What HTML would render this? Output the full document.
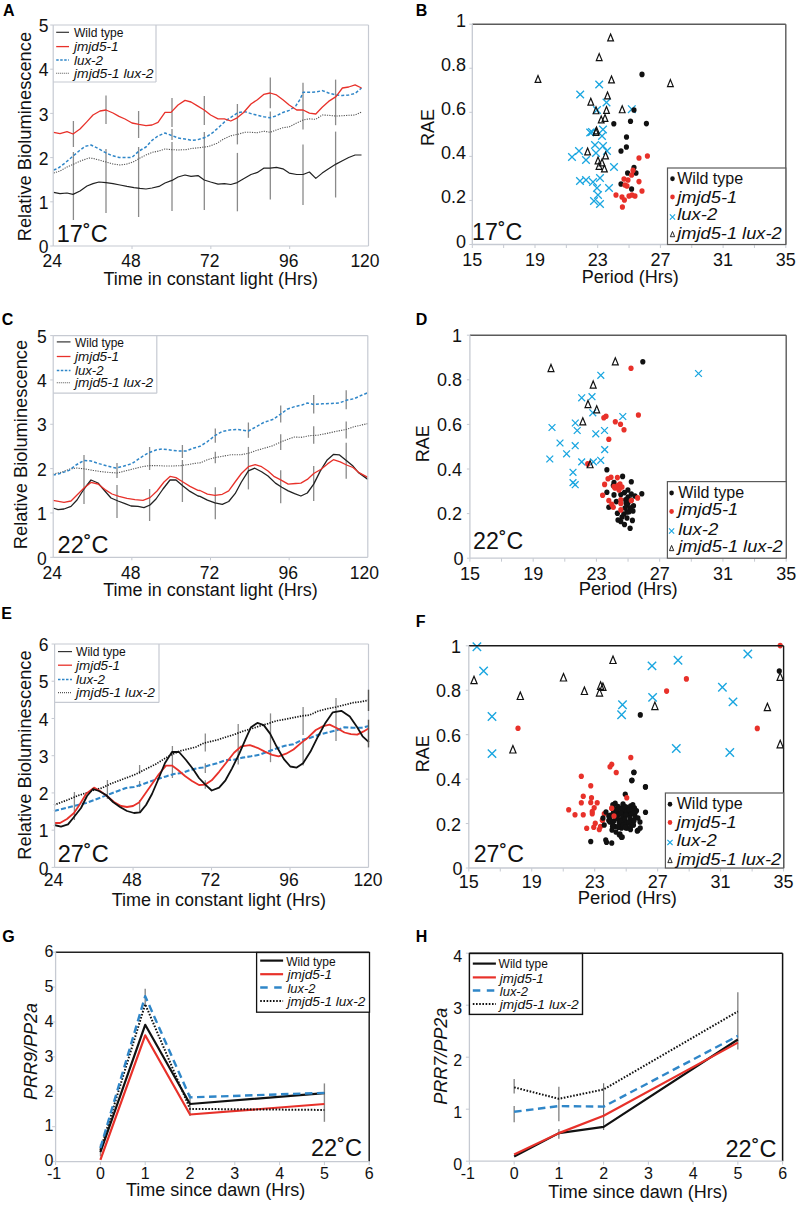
<!DOCTYPE html>
<html><head><meta charset="utf-8"><style>
html,body{margin:0;padding:0;background:#fff;width:800px;height:1206px;overflow:hidden}
svg{display:block;font-family:"Liberation Sans", sans-serif}
</style></head><body>
<svg width="800" height="1206" viewBox="0 0 800 1206">
<text x="3.00" y="15.75" font-size="16" text-anchor="start" font-weight="bold" fill="#000">A</text>
<text x="415.80" y="15.60" font-size="16" text-anchor="start" font-weight="bold" fill="#000">B</text>
<text x="1.80" y="324.75" font-size="16" text-anchor="start" font-weight="bold" fill="#000">C</text>
<text x="415.80" y="324.50" font-size="16" text-anchor="start" font-weight="bold" fill="#000">D</text>
<text x="1.20" y="618.60" font-size="16" text-anchor="start" font-weight="bold" fill="#000">E</text>
<text x="415.80" y="626.50" font-size="16" text-anchor="start" font-weight="bold" fill="#000">F</text>
<text x="2.30" y="941.80" font-size="16" text-anchor="start" font-weight="bold" fill="#000">G</text>
<text x="415.80" y="942.00" font-size="16" text-anchor="start" font-weight="bold" fill="#000">H</text>
<line x1="73.40" y1="121.00" x2="73.40" y2="147.00" stroke="#8a8a8a" stroke-width="1.3" stroke-linecap="butt"/>
<line x1="73.40" y1="152.00" x2="73.40" y2="220.00" stroke="#8a8a8a" stroke-width="1.3" stroke-linecap="butt"/>
<line x1="106.00" y1="95.60" x2="106.00" y2="124.00" stroke="#8a8a8a" stroke-width="1.3" stroke-linecap="butt"/>
<line x1="106.00" y1="149.00" x2="106.00" y2="213.00" stroke="#8a8a8a" stroke-width="1.3" stroke-linecap="butt"/>
<line x1="138.60" y1="111.00" x2="138.60" y2="138.00" stroke="#8a8a8a" stroke-width="1.3" stroke-linecap="butt"/>
<line x1="138.60" y1="147.00" x2="138.60" y2="217.00" stroke="#8a8a8a" stroke-width="1.3" stroke-linecap="butt"/>
<line x1="172.00" y1="98.00" x2="172.00" y2="127.00" stroke="#8a8a8a" stroke-width="1.3" stroke-linecap="butt"/>
<line x1="172.00" y1="129.00" x2="172.00" y2="140.00" stroke="#8a8a8a" stroke-width="1.3" stroke-linecap="butt"/>
<line x1="172.00" y1="142.00" x2="172.00" y2="211.00" stroke="#8a8a8a" stroke-width="1.3" stroke-linecap="butt"/>
<line x1="204.30" y1="96.00" x2="204.30" y2="125.00" stroke="#8a8a8a" stroke-width="1.3" stroke-linecap="butt"/>
<line x1="204.30" y1="132.00" x2="204.30" y2="210.00" stroke="#8a8a8a" stroke-width="1.3" stroke-linecap="butt"/>
<line x1="237.40" y1="104.00" x2="237.40" y2="144.40" stroke="#8a8a8a" stroke-width="1.3" stroke-linecap="butt"/>
<line x1="237.40" y1="152.90" x2="237.40" y2="211.30" stroke="#8a8a8a" stroke-width="1.3" stroke-linecap="butt"/>
<line x1="270.30" y1="77.40" x2="270.30" y2="108.20" stroke="#8a8a8a" stroke-width="1.3" stroke-linecap="butt"/>
<line x1="270.30" y1="111.40" x2="270.30" y2="199.60" stroke="#8a8a8a" stroke-width="1.3" stroke-linecap="butt"/>
<line x1="303.00" y1="82.70" x2="303.00" y2="129.50" stroke="#8a8a8a" stroke-width="1.3" stroke-linecap="butt"/>
<line x1="303.00" y1="144.40" x2="303.00" y2="204.90" stroke="#8a8a8a" stroke-width="1.3" stroke-linecap="butt"/>
<line x1="335.60" y1="79.60" x2="335.60" y2="125.20" stroke="#8a8a8a" stroke-width="1.3" stroke-linecap="butt"/>
<line x1="335.60" y1="131.60" x2="335.60" y2="197.50" stroke="#8a8a8a" stroke-width="1.3" stroke-linecap="butt"/>
<polyline points="53.60,173.00 60.00,171.00 67.00,167.00 74.00,164.00 82.00,160.40 89.00,158.00 93.00,158.40 99.00,160.00 106.00,162.00 113.00,164.00 120.00,165.00 127.00,164.00 134.00,161.60 140.00,158.00 146.00,155.00 152.00,152.40 159.00,151.00 165.00,149.00 171.00,149.60 178.00,150.00 186.00,149.60 192.00,148.40 200.00,147.60 208.50,146.50 217.00,143.30 223.40,139.10 231.90,135.40 238.20,134.20 244.60,132.30 251.00,132.30 257.40,132.70 263.70,131.20 270.10,132.30 276.50,129.90 282.90,127.80 289.20,126.90 295.60,123.50 303.10,119.90 309.40,118.90 315.80,119.30 322.20,115.00 328.60,115.30 336.00,116.10 342.40,115.70 348.70,115.30 355.10,115.00 361.50,112.10" fill="none" stroke="#555" stroke-width="1.1" stroke-dasharray="1.2,1.2" stroke-linejoin="round" stroke-linecap="butt"/>
<polyline points="53.60,192.40 60.00,193.60 67.00,193.00 73.00,194.40 80.00,191.00 87.00,186.00 93.00,183.60 99.00,182.00 106.00,182.60 113.00,183.60 120.00,185.00 127.00,186.40 134.00,187.60 140.00,188.40 146.00,189.00 152.00,188.00 159.00,186.40 165.00,183.00 172.00,180.40 178.00,177.00 185.00,175.00 191.00,176.40 198.00,175.60 204.20,180.00 210.60,182.00 218.00,184.10 224.40,183.70 230.80,184.50 237.20,182.60 243.60,178.80 251.00,174.50 257.40,172.40 263.70,168.20 270.10,168.20 276.50,167.30 282.90,168.80 289.20,173.10 296.70,174.50 303.10,174.50 309.40,172.00 315.80,178.40 322.20,173.10 328.60,168.80 336.00,164.10 342.40,160.70 348.70,157.50 355.10,155.00 361.50,155.00" fill="none" stroke="#222" stroke-width="1.2" stroke-linejoin="round" stroke-linecap="butt"/>
<polyline points="53.60,170.00 58.00,168.40 65.00,163.00 72.00,157.00 79.00,151.00 85.00,146.40 91.00,145.00 98.00,148.40 105.00,152.40 112.00,155.60 119.00,157.40 126.00,157.60 132.00,157.40 139.00,151.00 146.00,147.00 152.00,140.40 158.00,136.00 165.00,133.00 172.00,135.60 178.00,138.00 185.00,139.00 192.00,140.40 198.00,139.60 206.40,137.00 212.70,132.70 219.10,127.00 225.50,121.00 231.90,116.70 238.20,112.50 244.60,111.60 251.00,113.60 257.40,115.30 263.70,116.70 270.10,117.80 276.50,115.70 282.90,112.50 289.20,110.40 295.60,106.10 299.90,99.70 303.10,92.30 309.40,92.30 315.80,92.10 322.20,90.60 328.60,93.00 336.00,95.00 342.40,95.50 348.70,95.00 355.10,93.40 361.50,88.00" fill="none" stroke="#2f86c8" stroke-width="1.5" stroke-dasharray="3,2" stroke-linejoin="round" stroke-linecap="butt"/>
<polyline points="53.60,132.40 60.00,133.60 67.00,131.60 73.00,134.00 80.00,129.00 87.00,121.60 93.00,115.00 100.00,111.00 106.00,110.00 113.00,113.00 119.00,116.40 125.00,119.00 132.00,123.00 139.00,124.40 146.00,125.60 152.00,125.00 158.00,122.40 165.00,112.40 171.00,112.40 178.00,105.00 185.00,100.40 191.00,102.00 197.00,105.60 204.20,110.00 210.60,115.00 218.00,118.90 224.40,118.90 230.80,121.00 237.20,117.80 243.60,112.50 251.00,104.00 257.40,99.70 263.70,94.40 270.10,93.00 276.50,94.90 282.90,99.70 289.20,105.00 296.70,110.00 303.10,110.00 309.40,113.10 315.80,114.00 322.20,107.20 328.60,101.40 336.00,96.60 342.40,88.00 348.70,87.00 355.10,84.90 361.50,88.00" fill="none" stroke="#e8312a" stroke-width="1.3" stroke-linejoin="round" stroke-linecap="butt"/>
<line x1="53.20" y1="25.00" x2="368.50" y2="25.00" stroke="#c6cad2" stroke-width="1.2" stroke-linecap="butt"/>
<line x1="368.50" y1="25.00" x2="368.50" y2="246.00" stroke="#c6cad2" stroke-width="1.2" stroke-linecap="butt"/>
<line x1="53.20" y1="25.00" x2="53.20" y2="246.00" stroke="#c6cad2" stroke-width="1.2" stroke-linecap="butt"/>
<line x1="53.20" y1="246.00" x2="368.50" y2="246.00" stroke="#c6cad2" stroke-width="1.2" stroke-linecap="butt"/>
<line x1="50.20" y1="246.00" x2="53.20" y2="246.00" stroke="#c6cad2" stroke-width="1" stroke-linecap="butt"/>
<line x1="50.20" y1="201.80" x2="53.20" y2="201.80" stroke="#c6cad2" stroke-width="1" stroke-linecap="butt"/>
<line x1="50.20" y1="157.60" x2="53.20" y2="157.60" stroke="#c6cad2" stroke-width="1" stroke-linecap="butt"/>
<line x1="50.20" y1="113.40" x2="53.20" y2="113.40" stroke="#c6cad2" stroke-width="1" stroke-linecap="butt"/>
<line x1="50.20" y1="69.20" x2="53.20" y2="69.20" stroke="#c6cad2" stroke-width="1" stroke-linecap="butt"/>
<line x1="50.20" y1="25.00" x2="53.20" y2="25.00" stroke="#c6cad2" stroke-width="1" stroke-linecap="butt"/>
<line x1="132.03" y1="246.00" x2="132.03" y2="249.00" stroke="#c6cad2" stroke-width="1" stroke-linecap="butt"/>
<line x1="210.85" y1="246.00" x2="210.85" y2="249.00" stroke="#c6cad2" stroke-width="1" stroke-linecap="butt"/>
<line x1="289.68" y1="246.00" x2="289.68" y2="249.00" stroke="#c6cad2" stroke-width="1" stroke-linecap="butt"/>
<line x1="53.20" y1="82.00" x2="156.00" y2="82.00" stroke="#c6cad2" stroke-width="1.2" stroke-linecap="butt"/>
<line x1="156.00" y1="25.00" x2="156.00" y2="82.00" stroke="#c6cad2" stroke-width="1.2" stroke-linecap="butt"/>
<line x1="56.20" y1="32.30" x2="69.00" y2="32.30" stroke="#333" stroke-width="1.2" stroke-linecap="butt"/>
<text x="74.00" y="36.90" font-size="13" text-anchor="start" fill="#111" textLength="49.5" lengthAdjust="spacingAndGlyphs">Wild type</text>
<line x1="56.20" y1="46.60" x2="69.00" y2="46.60" stroke="#e8312a" stroke-width="1.3" stroke-linecap="butt"/>
<text x="74.00" y="51.20" font-size="13" text-anchor="start" font-style="italic" fill="#111" textLength="44.5" lengthAdjust="spacingAndGlyphs">jmjd5-1</text>
<line x1="56.20" y1="60.00" x2="69.00" y2="60.00" stroke="#2f86c8" stroke-width="1.5" stroke-dasharray="2.5,1.5" stroke-linecap="butt"/>
<text x="74.00" y="64.60" font-size="13" text-anchor="start" font-style="italic" fill="#111" textLength="29" lengthAdjust="spacingAndGlyphs">lux-2</text>
<line x1="56.20" y1="73.20" x2="69.00" y2="73.20" stroke="#555" stroke-width="1.1" stroke-dasharray="1,1" stroke-linecap="butt"/>
<text x="74.00" y="77.80" font-size="13" text-anchor="start" font-style="italic" fill="#111" textLength="79.5" lengthAdjust="spacingAndGlyphs">jmjd5-1 lux-2</text>
<text x="48.60" y="253.20" font-size="17.5" text-anchor="end" fill="#111">0</text>
<text x="48.60" y="209.00" font-size="17.5" text-anchor="end" fill="#111">1</text>
<text x="48.60" y="164.80" font-size="17.5" text-anchor="end" fill="#111">2</text>
<text x="48.60" y="120.60" font-size="17.5" text-anchor="end" fill="#111">3</text>
<text x="48.60" y="76.40" font-size="17.5" text-anchor="end" fill="#111">4</text>
<text x="48.60" y="32.20" font-size="17.5" text-anchor="end" fill="#111">5</text>
<text x="52.20" y="266.70" font-size="17.5" text-anchor="middle" fill="#111">24</text>
<text x="131.03" y="266.70" font-size="17.5" text-anchor="middle" fill="#111">48</text>
<text x="209.85" y="266.70" font-size="17.5" text-anchor="middle" fill="#111">72</text>
<text x="288.68" y="266.70" font-size="17.5" text-anchor="middle" fill="#111">96</text>
<text x="365.00" y="266.70" font-size="17.5" text-anchor="middle" fill="#111">120</text>
<text x="210.70" y="284.50" font-size="18" text-anchor="middle" fill="#111">Time in constant light (Hrs)</text>
<text x="30.80" y="136.60" font-size="18.3" text-anchor="middle" transform="rotate(-90 30.8 136.6)" fill="#111">Relative Bioluminescence</text>
<text x="56.80" y="241.90" font-size="23.5" text-anchor="start" fill="#111">17˚C</text>
<path d="M595.40,80.70L603.00,88.30M595.40,88.30L603.00,80.70" stroke="#1aa6e0" stroke-width="1.3" fill="none"/>
<path d="M576.40,90.70L584.00,98.30M576.40,98.30L584.00,90.70" stroke="#1aa6e0" stroke-width="1.3" fill="none"/>
<path d="M602.70,98.70L610.30,106.30M602.70,106.30L610.30,98.70" stroke="#1aa6e0" stroke-width="1.3" fill="none"/>
<path d="M593.20,106.20L600.80,113.80M593.20,113.80L600.80,106.20" stroke="#1aa6e0" stroke-width="1.3" fill="none"/>
<path d="M628.00,105.40L635.60,113.00M628.00,113.00L635.60,105.40" stroke="#1aa6e0" stroke-width="1.3" fill="none"/>
<path d="M586.40,128.70L594.00,136.30M586.40,136.30L594.00,128.70" stroke="#1aa6e0" stroke-width="1.3" fill="none"/>
<path d="M599.20,125.70L606.80,133.30M599.20,133.30L606.80,125.70" stroke="#1aa6e0" stroke-width="1.3" fill="none"/>
<path d="M598.20,132.20L605.80,139.80M598.20,139.80L605.80,132.20" stroke="#1aa6e0" stroke-width="1.3" fill="none"/>
<path d="M588.20,128.20L595.80,135.80M588.20,135.80L595.80,128.20" stroke="#1aa6e0" stroke-width="1.3" fill="none"/>
<path d="M591.20,141.20L598.80,148.80M591.20,148.80L598.80,141.20" stroke="#1aa6e0" stroke-width="1.3" fill="none"/>
<path d="M599.20,142.20L606.80,149.80M599.20,149.80L606.80,142.20" stroke="#1aa6e0" stroke-width="1.3" fill="none"/>
<path d="M575.20,147.20L582.80,154.80M575.20,154.80L582.80,147.20" stroke="#1aa6e0" stroke-width="1.3" fill="none"/>
<path d="M568.20,153.20L575.80,160.80M568.20,160.80L575.80,153.20" stroke="#1aa6e0" stroke-width="1.3" fill="none"/>
<path d="M582.20,156.20L589.80,163.80M582.20,163.80L589.80,156.20" stroke="#1aa6e0" stroke-width="1.3" fill="none"/>
<path d="M592.20,149.20L599.80,156.80M592.20,156.80L599.80,149.20" stroke="#1aa6e0" stroke-width="1.3" fill="none"/>
<path d="M603.20,147.20L610.80,154.80M603.20,154.80L610.80,147.20" stroke="#1aa6e0" stroke-width="1.3" fill="none"/>
<path d="M610.20,163.20L617.80,170.80M610.20,170.80L617.80,163.20" stroke="#1aa6e0" stroke-width="1.3" fill="none"/>
<path d="M576.20,177.20L583.80,184.80M576.20,184.80L583.80,177.20" stroke="#1aa6e0" stroke-width="1.3" fill="none"/>
<path d="M582.20,176.20L589.80,183.80M582.20,183.80L589.80,176.20" stroke="#1aa6e0" stroke-width="1.3" fill="none"/>
<path d="M589.20,178.20L596.80,185.80M589.20,185.80L596.80,178.20" stroke="#1aa6e0" stroke-width="1.3" fill="none"/>
<path d="M596.20,174.20L603.80,181.80M596.20,181.80L603.80,174.20" stroke="#1aa6e0" stroke-width="1.3" fill="none"/>
<path d="M593.20,184.20L600.80,191.80M593.20,191.80L600.80,184.20" stroke="#1aa6e0" stroke-width="1.3" fill="none"/>
<path d="M605.20,184.20L612.80,191.80M605.20,191.80L612.80,184.20" stroke="#1aa6e0" stroke-width="1.3" fill="none"/>
<path d="M594.20,191.20L601.80,198.80M594.20,198.80L601.80,191.20" stroke="#1aa6e0" stroke-width="1.3" fill="none"/>
<path d="M590.20,197.20L597.80,204.80M590.20,204.80L597.80,197.20" stroke="#1aa6e0" stroke-width="1.3" fill="none"/>
<path d="M596.20,200.20L603.80,207.80M596.20,207.80L603.80,200.20" stroke="#1aa6e0" stroke-width="1.3" fill="none"/>
<path d="M610.60,34.04L613.48,40.97L607.72,40.97Z" stroke="#111" stroke-width="1.2" fill="none" stroke-linejoin="miter"/>
<path d="M599.20,53.64L602.08,60.57L596.32,60.57Z" stroke="#111" stroke-width="1.2" fill="none" stroke-linejoin="miter"/>
<path d="M611.50,76.04L614.38,82.97L608.62,82.97Z" stroke="#111" stroke-width="1.2" fill="none" stroke-linejoin="miter"/>
<path d="M670.40,79.64L673.28,86.57L667.52,86.57Z" stroke="#111" stroke-width="1.2" fill="none" stroke-linejoin="miter"/>
<path d="M538.00,75.54L540.88,82.47L535.12,82.47Z" stroke="#111" stroke-width="1.2" fill="none" stroke-linejoin="miter"/>
<path d="M607.50,92.04L610.38,98.97L604.62,98.97Z" stroke="#111" stroke-width="1.2" fill="none" stroke-linejoin="miter"/>
<path d="M590.80,98.24L593.68,105.17L587.92,105.17Z" stroke="#111" stroke-width="1.2" fill="none" stroke-linejoin="miter"/>
<path d="M596.00,106.84L598.88,113.77L593.12,113.77Z" stroke="#111" stroke-width="1.2" fill="none" stroke-linejoin="miter"/>
<path d="M606.50,106.54L609.38,113.47L603.62,113.47Z" stroke="#111" stroke-width="1.2" fill="none" stroke-linejoin="miter"/>
<path d="M622.20,105.84L625.08,112.77L619.32,112.77Z" stroke="#111" stroke-width="1.2" fill="none" stroke-linejoin="miter"/>
<path d="M601.20,116.04L604.08,122.97L598.32,122.97Z" stroke="#111" stroke-width="1.2" fill="none" stroke-linejoin="miter"/>
<path d="M605.00,114.54L607.88,121.47L602.12,121.47Z" stroke="#111" stroke-width="1.2" fill="none" stroke-linejoin="miter"/>
<path d="M596.50,127.04L599.38,133.97L593.62,133.97Z" stroke="#111" stroke-width="1.2" fill="none" stroke-linejoin="miter"/>
<path d="M596.00,128.44L598.88,135.37L593.12,135.37Z" stroke="#111" stroke-width="1.2" fill="none" stroke-linejoin="miter"/>
<path d="M587.60,148.04L590.48,154.97L584.72,154.97Z" stroke="#111" stroke-width="1.2" fill="none" stroke-linejoin="miter"/>
<path d="M605.60,152.04L608.48,158.97L602.72,158.97Z" stroke="#111" stroke-width="1.2" fill="none" stroke-linejoin="miter"/>
<path d="M598.00,157.04L600.88,163.97L595.12,163.97Z" stroke="#111" stroke-width="1.2" fill="none" stroke-linejoin="miter"/>
<path d="M602.00,159.04L604.88,165.97L599.12,165.97Z" stroke="#111" stroke-width="1.2" fill="none" stroke-linejoin="miter"/>
<path d="M599.00,162.44L601.88,169.37L596.12,169.37Z" stroke="#111" stroke-width="1.2" fill="none" stroke-linejoin="miter"/>
<path d="M604.40,165.04L607.28,171.97L601.52,171.97Z" stroke="#111" stroke-width="1.2" fill="none" stroke-linejoin="miter"/>
<ellipse cx="642.00" cy="74.40" rx="2.60" ry="2.81" fill="#111"/>
<ellipse cx="634.00" cy="110.00" rx="2.60" ry="2.81" fill="#111"/>
<ellipse cx="613.80" cy="123.80" rx="2.60" ry="2.81" fill="#111"/>
<ellipse cx="630.50" cy="121.20" rx="2.60" ry="2.81" fill="#111"/>
<ellipse cx="646.40" cy="123.60" rx="2.60" ry="2.81" fill="#111"/>
<ellipse cx="626.50" cy="137.00" rx="2.60" ry="2.81" fill="#111"/>
<ellipse cx="626.40" cy="147.00" rx="2.60" ry="2.81" fill="#111"/>
<ellipse cx="621.00" cy="151.00" rx="2.60" ry="2.81" fill="#111"/>
<ellipse cx="634.00" cy="167.60" rx="2.60" ry="2.81" fill="#111"/>
<ellipse cx="627.60" cy="173.00" rx="2.60" ry="2.81" fill="#111"/>
<ellipse cx="636.00" cy="173.00" rx="2.60" ry="2.81" fill="#111"/>
<ellipse cx="621.00" cy="184.00" rx="2.60" ry="2.81" fill="#111"/>
<ellipse cx="631.60" cy="189.00" rx="2.60" ry="2.81" fill="#111"/>
<ellipse cx="639.00" cy="158.00" rx="2.60" ry="2.81" fill="#e8312a"/>
<ellipse cx="647.40" cy="156.00" rx="2.60" ry="2.81" fill="#e8312a"/>
<ellipse cx="633.00" cy="170.40" rx="2.60" ry="2.81" fill="#e8312a"/>
<ellipse cx="631.60" cy="175.00" rx="2.60" ry="2.81" fill="#e8312a"/>
<ellipse cx="624.00" cy="179.00" rx="2.60" ry="2.81" fill="#e8312a"/>
<ellipse cx="628.00" cy="180.00" rx="2.60" ry="2.81" fill="#e8312a"/>
<ellipse cx="639.00" cy="181.60" rx="2.60" ry="2.81" fill="#e8312a"/>
<ellipse cx="625.00" cy="185.00" rx="2.60" ry="2.81" fill="#e8312a"/>
<ellipse cx="627.00" cy="186.00" rx="2.60" ry="2.81" fill="#e8312a"/>
<ellipse cx="642.00" cy="191.00" rx="2.60" ry="2.81" fill="#e8312a"/>
<ellipse cx="616.00" cy="195.00" rx="2.60" ry="2.81" fill="#e8312a"/>
<ellipse cx="622.00" cy="197.00" rx="2.60" ry="2.81" fill="#e8312a"/>
<ellipse cx="624.40" cy="200.00" rx="2.60" ry="2.81" fill="#e8312a"/>
<ellipse cx="629.00" cy="196.00" rx="2.60" ry="2.81" fill="#e8312a"/>
<ellipse cx="632.00" cy="195.00" rx="2.60" ry="2.81" fill="#e8312a"/>
<ellipse cx="635.00" cy="196.00" rx="2.60" ry="2.81" fill="#e8312a"/>
<ellipse cx="622.40" cy="207.00" rx="2.60" ry="2.81" fill="#e8312a"/>
<line x1="472.30" y1="24.20" x2="785.80" y2="24.20" stroke="#5a5a5a" stroke-width="1.4" stroke-linecap="butt"/>
<line x1="785.80" y1="24.20" x2="785.80" y2="244.50" stroke="#5a5a5a" stroke-width="1.4" stroke-linecap="butt"/>
<line x1="472.30" y1="24.20" x2="472.30" y2="244.50" stroke="#c6cad2" stroke-width="1.3" stroke-linecap="butt"/>
<line x1="472.30" y1="244.50" x2="785.80" y2="244.50" stroke="#c6cad2" stroke-width="1.3" stroke-linecap="butt"/>
<line x1="469.30" y1="244.50" x2="472.30" y2="244.50" stroke="#c6cad2" stroke-width="1" stroke-linecap="butt"/>
<line x1="469.30" y1="200.44" x2="472.30" y2="200.44" stroke="#c6cad2" stroke-width="1" stroke-linecap="butt"/>
<line x1="469.30" y1="156.38" x2="472.30" y2="156.38" stroke="#c6cad2" stroke-width="1" stroke-linecap="butt"/>
<line x1="469.30" y1="112.32" x2="472.30" y2="112.32" stroke="#c6cad2" stroke-width="1" stroke-linecap="butt"/>
<line x1="469.30" y1="68.26" x2="472.30" y2="68.26" stroke="#c6cad2" stroke-width="1" stroke-linecap="butt"/>
<line x1="469.30" y1="24.20" x2="472.30" y2="24.20" stroke="#c6cad2" stroke-width="1" stroke-linecap="butt"/>
<line x1="472.30" y1="244.50" x2="472.30" y2="248.00" stroke="#c6cad2" stroke-width="1" stroke-linecap="butt"/>
<line x1="503.65" y1="244.50" x2="503.65" y2="248.00" stroke="#c6cad2" stroke-width="1" stroke-linecap="butt"/>
<line x1="535.00" y1="244.50" x2="535.00" y2="248.00" stroke="#c6cad2" stroke-width="1" stroke-linecap="butt"/>
<line x1="566.35" y1="244.50" x2="566.35" y2="248.00" stroke="#c6cad2" stroke-width="1" stroke-linecap="butt"/>
<line x1="597.70" y1="244.50" x2="597.70" y2="248.00" stroke="#c6cad2" stroke-width="1" stroke-linecap="butt"/>
<line x1="629.05" y1="244.50" x2="629.05" y2="248.00" stroke="#c6cad2" stroke-width="1" stroke-linecap="butt"/>
<line x1="660.40" y1="244.50" x2="660.40" y2="248.00" stroke="#c6cad2" stroke-width="1" stroke-linecap="butt"/>
<line x1="691.75" y1="244.50" x2="691.75" y2="248.00" stroke="#c6cad2" stroke-width="1" stroke-linecap="butt"/>
<line x1="723.10" y1="244.50" x2="723.10" y2="248.00" stroke="#c6cad2" stroke-width="1" stroke-linecap="butt"/>
<line x1="754.45" y1="244.50" x2="754.45" y2="248.00" stroke="#c6cad2" stroke-width="1" stroke-linecap="butt"/>
<line x1="785.80" y1="244.50" x2="785.80" y2="248.00" stroke="#c6cad2" stroke-width="1" stroke-linecap="butt"/>
<text x="466.00" y="247.50" font-size="18" text-anchor="end" fill="#111">0</text>
<text x="466.00" y="203.44" font-size="18" text-anchor="end" fill="#111">0.2</text>
<text x="466.00" y="159.38" font-size="18" text-anchor="end" fill="#111">0.4</text>
<text x="466.00" y="115.32" font-size="18" text-anchor="end" fill="#111">0.6</text>
<text x="466.00" y="71.26" font-size="18" text-anchor="end" fill="#111">0.8</text>
<text x="466.00" y="27.20" font-size="18" text-anchor="end" fill="#111">1</text>
<text x="472.30" y="266.00" font-size="18" text-anchor="middle" fill="#111">15</text>
<text x="535.00" y="266.00" font-size="18" text-anchor="middle" fill="#111">19</text>
<text x="597.70" y="266.00" font-size="18" text-anchor="middle" fill="#111">23</text>
<text x="660.40" y="266.00" font-size="18" text-anchor="middle" fill="#111">27</text>
<text x="723.10" y="266.00" font-size="18" text-anchor="middle" fill="#111">31</text>
<text x="785.80" y="266.00" font-size="18" text-anchor="middle" fill="#111">35</text>
<text x="630.30" y="283.00" font-size="18" text-anchor="middle" fill="#111">Period (Hrs)</text>
<text x="433.70" y="127.50" font-size="18" text-anchor="middle" transform="rotate(-90 433.7 127.5)" fill="#111">RAE</text>
<text x="472.10" y="239.80" font-size="23.2" text-anchor="start" fill="#111">17˚C</text>
<rect x="667.50" y="168.00" width="118.30" height="76.50" fill="#fff" stroke="#5a5a5a" stroke-width="1.2"/>
<ellipse cx="672.50" cy="178.80" rx="2.30" ry="2.48" fill="#111"/>
<text x="677.20" y="183.80" font-size="16" text-anchor="start" fill="#111" textLength="66" lengthAdjust="spacingAndGlyphs">Wild type</text>
<ellipse cx="672.50" cy="197.00" rx="2.30" ry="2.48" fill="#e8312a"/>
<text x="677.20" y="202.50" font-size="16" text-anchor="start" font-style="italic" fill="#111" textLength="60" lengthAdjust="spacingAndGlyphs">jmjd5-1</text>
<path d="M669.90,214.40L675.10,219.60M669.90,219.60L675.10,214.40" stroke="#1aa6e0" stroke-width="1.1" fill="none"/>
<text x="677.20" y="220.00" font-size="16" text-anchor="start" font-style="italic" fill="#111" textLength="40" lengthAdjust="spacingAndGlyphs">lux-2</text>
<path d="M672.50,231.53L674.66,236.73L670.34,236.73Z" stroke="#111" stroke-width="0.9" fill="none" stroke-linejoin="miter"/>
<text x="677.20" y="238.80" font-size="16" text-anchor="start" font-style="italic" fill="#111" textLength="104.5" lengthAdjust="spacingAndGlyphs">jmjd5-1 lux-2</text>
<line x1="84.00" y1="455.00" x2="84.00" y2="504.00" stroke="#8a8a8a" stroke-width="1.3" stroke-linecap="butt"/>
<line x1="117.00" y1="463.00" x2="117.00" y2="478.00" stroke="#8a8a8a" stroke-width="1.3" stroke-linecap="butt"/>
<line x1="117.00" y1="485.00" x2="117.00" y2="518.00" stroke="#8a8a8a" stroke-width="1.3" stroke-linecap="butt"/>
<line x1="149.60" y1="447.00" x2="149.60" y2="470.00" stroke="#8a8a8a" stroke-width="1.3" stroke-linecap="butt"/>
<line x1="149.60" y1="489.00" x2="149.60" y2="521.00" stroke="#8a8a8a" stroke-width="1.3" stroke-linecap="butt"/>
<line x1="182.40" y1="445.00" x2="182.40" y2="458.00" stroke="#8a8a8a" stroke-width="1.3" stroke-linecap="butt"/>
<line x1="182.40" y1="460.00" x2="182.40" y2="502.00" stroke="#8a8a8a" stroke-width="1.3" stroke-linecap="butt"/>
<line x1="215.30" y1="428.40" x2="215.30" y2="442.70" stroke="#8a8a8a" stroke-width="1.3" stroke-linecap="butt"/>
<line x1="215.30" y1="451.80" x2="215.30" y2="463.30" stroke="#8a8a8a" stroke-width="1.3" stroke-linecap="butt"/>
<line x1="215.30" y1="487.30" x2="215.30" y2="519.20" stroke="#8a8a8a" stroke-width="1.3" stroke-linecap="butt"/>
<line x1="248.40" y1="422.50" x2="248.40" y2="437.80" stroke="#8a8a8a" stroke-width="1.3" stroke-linecap="butt"/>
<line x1="248.40" y1="446.90" x2="248.40" y2="489.40" stroke="#8a8a8a" stroke-width="1.3" stroke-linecap="butt"/>
<line x1="280.70" y1="405.50" x2="280.70" y2="422.50" stroke="#8a8a8a" stroke-width="1.3" stroke-linecap="butt"/>
<line x1="280.70" y1="434.20" x2="280.70" y2="450.10" stroke="#8a8a8a" stroke-width="1.3" stroke-linecap="butt"/>
<line x1="280.70" y1="470.30" x2="280.70" y2="503.20" stroke="#8a8a8a" stroke-width="1.3" stroke-linecap="butt"/>
<line x1="313.70" y1="394.90" x2="313.70" y2="413.60" stroke="#8a8a8a" stroke-width="1.3" stroke-linecap="butt"/>
<line x1="313.70" y1="426.30" x2="313.70" y2="443.70" stroke="#8a8a8a" stroke-width="1.3" stroke-linecap="butt"/>
<line x1="313.70" y1="466.10" x2="313.70" y2="501.10" stroke="#8a8a8a" stroke-width="1.3" stroke-linecap="butt"/>
<line x1="346.20" y1="390.20" x2="346.20" y2="409.30" stroke="#8a8a8a" stroke-width="1.3" stroke-linecap="butt"/>
<line x1="346.20" y1="421.40" x2="346.20" y2="438.40" stroke="#8a8a8a" stroke-width="1.3" stroke-linecap="butt"/>
<line x1="346.20" y1="442.70" x2="346.20" y2="478.80" stroke="#8a8a8a" stroke-width="1.3" stroke-linecap="butt"/>
<polyline points="53.00,474.00 62.00,472.00 70.00,469.00 77.00,468.00 85.00,469.00 93.00,470.40 101.00,471.60 109.00,472.40 117.00,473.00 125.00,471.00 133.00,469.00 141.00,467.00 149.00,465.60 157.00,465.60 165.00,466.00 173.00,466.00 181.00,465.60 189.00,464.40 197.00,463.00 200.00,462.90 207.40,459.70 214.90,457.60 223.40,456.10 230.80,454.80 240.40,454.80 248.40,453.30 256.30,450.50 263.70,448.40 272.20,445.90 280.70,442.00 288.20,439.10 294.60,437.00 300.90,437.40 309.40,435.70 317.90,435.20 326.40,433.50 336.00,431.40 346.60,429.30 354.10,426.70 361.50,425.00 367.90,423.60" fill="none" stroke="#555" stroke-width="1.1" stroke-dasharray="1.2,1.2" stroke-linejoin="round" stroke-linecap="butt"/>
<polyline points="53.00,508.00 58.00,509.60 64.00,509.00 71.00,506.40 77.00,500.00 84.00,489.00 91.00,480.00 98.00,483.00 104.00,490.00 111.00,498.00 118.00,501.00 125.00,503.60 131.00,506.00 138.00,506.40 144.00,507.60 150.00,505.00 156.00,499.00 163.00,489.00 170.00,480.00 176.00,480.00 183.00,486.00 190.00,491.40 198.00,496.00 200.00,496.40 207.40,500.10 214.90,502.80 222.30,504.30 228.70,501.50 235.10,493.70 241.40,482.00 248.40,470.90 254.80,468.20 261.60,471.80 268.00,476.00 275.40,483.10 281.80,487.30 288.20,490.90 294.60,493.70 300.90,496.00 307.30,493.00 313.70,484.10 320.10,471.40 326.90,460.30 333.40,454.40 339.20,454.80 346.60,460.70 353.00,466.10 358.30,472.40 367.90,479.40" fill="none" stroke="#222" stroke-width="1.3" stroke-linejoin="round" stroke-linecap="butt"/>
<polyline points="53.00,475.00 60.00,473.60 69.00,470.40 76.00,465.00 84.00,460.40 91.00,461.00 99.00,463.60 107.00,466.00 116.00,468.00 124.00,466.00 132.00,463.60 140.00,458.00 148.00,453.00 156.00,450.00 162.00,449.00 170.00,450.00 178.00,451.00 186.00,451.00 194.00,448.00 200.00,446.30 207.40,441.60 214.90,435.70 222.30,431.40 229.70,430.00 237.20,429.30 248.40,431.00 256.30,426.70 263.70,422.50 273.30,419.30 280.70,414.00 287.10,409.30 294.60,406.60 302.00,405.00 307.30,403.00 313.70,404.40 322.20,403.80 331.70,403.40 339.20,403.00 346.60,400.20 354.10,398.70 361.50,395.30 367.90,392.70" fill="none" stroke="#2f86c8" stroke-width="1.5" stroke-dasharray="3,2" stroke-linejoin="round" stroke-linecap="butt"/>
<polyline points="53.00,500.40 64.00,502.40 71.00,501.00 77.00,495.00 84.00,488.00 91.00,482.40 98.00,484.00 105.00,489.60 112.00,494.00 119.00,496.40 127.00,498.40 135.00,499.60 143.00,500.40 150.00,497.60 157.00,491.00 164.00,482.00 170.00,476.40 176.00,477.60 183.00,482.00 190.00,486.40 198.00,490.40 200.00,490.50 207.40,494.10 214.90,495.40 222.30,494.30 228.70,490.90 235.10,482.00 241.40,473.50 248.40,466.70 255.20,464.60 261.60,466.70 268.00,471.00 274.40,476.70 280.70,479.90 288.20,484.10 295.60,483.50 300.90,483.10 307.30,479.40 313.70,473.50 321.10,469.20 327.50,463.90 333.40,459.70 340.20,461.80 346.60,465.00 353.00,467.50 359.40,472.90 367.90,477.30" fill="none" stroke="#e8312a" stroke-width="1.3" stroke-linejoin="round" stroke-linecap="butt"/>
<line x1="53.20" y1="335.60" x2="367.80" y2="335.60" stroke="#c6cad2" stroke-width="1.2" stroke-linecap="butt"/>
<line x1="367.80" y1="335.60" x2="367.80" y2="557.30" stroke="#c6cad2" stroke-width="1.2" stroke-linecap="butt"/>
<line x1="53.20" y1="335.60" x2="53.20" y2="557.30" stroke="#c6cad2" stroke-width="1.2" stroke-linecap="butt"/>
<line x1="53.20" y1="557.30" x2="367.80" y2="557.30" stroke="#c6cad2" stroke-width="1.2" stroke-linecap="butt"/>
<line x1="50.20" y1="557.30" x2="53.20" y2="557.30" stroke="#c6cad2" stroke-width="1" stroke-linecap="butt"/>
<line x1="50.20" y1="512.96" x2="53.20" y2="512.96" stroke="#c6cad2" stroke-width="1" stroke-linecap="butt"/>
<line x1="50.20" y1="468.62" x2="53.20" y2="468.62" stroke="#c6cad2" stroke-width="1" stroke-linecap="butt"/>
<line x1="50.20" y1="424.28" x2="53.20" y2="424.28" stroke="#c6cad2" stroke-width="1" stroke-linecap="butt"/>
<line x1="50.20" y1="379.94" x2="53.20" y2="379.94" stroke="#c6cad2" stroke-width="1" stroke-linecap="butt"/>
<line x1="50.20" y1="335.60" x2="53.20" y2="335.60" stroke="#c6cad2" stroke-width="1" stroke-linecap="butt"/>
<line x1="131.85" y1="557.30" x2="131.85" y2="560.30" stroke="#c6cad2" stroke-width="1" stroke-linecap="butt"/>
<line x1="210.50" y1="557.30" x2="210.50" y2="560.30" stroke="#c6cad2" stroke-width="1" stroke-linecap="butt"/>
<line x1="289.15" y1="557.30" x2="289.15" y2="560.30" stroke="#c6cad2" stroke-width="1" stroke-linecap="butt"/>
<line x1="53.20" y1="393.20" x2="156.80" y2="393.20" stroke="#c6cad2" stroke-width="1.2" stroke-linecap="butt"/>
<line x1="156.80" y1="335.60" x2="156.80" y2="393.20" stroke="#c6cad2" stroke-width="1.2" stroke-linecap="butt"/>
<line x1="56.80" y1="341.90" x2="70.50" y2="341.90" stroke="#333" stroke-width="1.2" stroke-linecap="butt"/>
<text x="75.00" y="346.50" font-size="13" text-anchor="start" fill="#111" textLength="49" lengthAdjust="spacingAndGlyphs">Wild type</text>
<line x1="56.80" y1="356.50" x2="70.50" y2="356.50" stroke="#e8312a" stroke-width="1.3" stroke-linecap="butt"/>
<text x="75.00" y="361.10" font-size="13" text-anchor="start" font-style="italic" fill="#111" textLength="44" lengthAdjust="spacingAndGlyphs">jmjd5-1</text>
<line x1="56.80" y1="370.40" x2="70.50" y2="370.40" stroke="#2f86c8" stroke-width="1.5" stroke-dasharray="2.5,1.5" stroke-linecap="butt"/>
<text x="75.00" y="375.00" font-size="13" text-anchor="start" font-style="italic" fill="#111" textLength="28.5" lengthAdjust="spacingAndGlyphs">lux-2</text>
<line x1="56.80" y1="382.80" x2="70.50" y2="382.80" stroke="#555" stroke-width="1.1" stroke-dasharray="1,1" stroke-linecap="butt"/>
<text x="75.00" y="387.40" font-size="13" text-anchor="start" font-style="italic" fill="#111" textLength="78" lengthAdjust="spacingAndGlyphs">jmjd5-1 lux-2</text>
<text x="46.80" y="564.50" font-size="17.5" text-anchor="end" fill="#111">0</text>
<text x="46.80" y="520.16" font-size="17.5" text-anchor="end" fill="#111">1</text>
<text x="46.80" y="475.82" font-size="17.5" text-anchor="end" fill="#111">2</text>
<text x="46.80" y="431.48" font-size="17.5" text-anchor="end" fill="#111">3</text>
<text x="46.80" y="387.14" font-size="17.5" text-anchor="end" fill="#111">4</text>
<text x="46.80" y="342.80" font-size="17.5" text-anchor="end" fill="#111">5</text>
<text x="52.20" y="579.30" font-size="17.5" text-anchor="middle" fill="#111">24</text>
<text x="130.85" y="579.30" font-size="17.5" text-anchor="middle" fill="#111">48</text>
<text x="209.50" y="579.30" font-size="17.5" text-anchor="middle" fill="#111">72</text>
<text x="288.15" y="579.30" font-size="17.5" text-anchor="middle" fill="#111">96</text>
<text x="364.30" y="579.30" font-size="17.5" text-anchor="middle" fill="#111">120</text>
<text x="210.50" y="596.00" font-size="18" text-anchor="middle" fill="#111">Time in constant light (Hrs)</text>
<text x="27.00" y="444.50" font-size="18.3" text-anchor="middle" transform="rotate(-90 27 444.5)" fill="#111">Relative Bioluminescence</text>
<text x="57.60" y="552.50" font-size="23.5" text-anchor="start" fill="#111">22˚C</text>
<path d="M695.10,370.10L701.90,376.90M695.10,376.90L701.90,370.10" stroke="#1aa6e0" stroke-width="1.3" fill="none"/>
<path d="M597.40,371.90L604.20,378.70M597.40,378.70L604.20,371.90" stroke="#1aa6e0" stroke-width="1.3" fill="none"/>
<path d="M578.30,394.40L585.10,401.20M578.30,401.20L585.10,394.40" stroke="#1aa6e0" stroke-width="1.3" fill="none"/>
<path d="M588.60,393.30L595.40,400.10M588.60,400.10L595.40,393.30" stroke="#1aa6e0" stroke-width="1.3" fill="none"/>
<path d="M589.40,409.40L596.20,416.20M589.40,416.20L596.20,409.40" stroke="#1aa6e0" stroke-width="1.3" fill="none"/>
<path d="M619.40,413.10L626.20,419.90M619.40,419.90L626.20,413.10" stroke="#1aa6e0" stroke-width="1.3" fill="none"/>
<path d="M571.90,419.60L578.70,426.40M571.90,426.40L578.70,419.60" stroke="#1aa6e0" stroke-width="1.3" fill="none"/>
<path d="M548.60,424.10L555.40,430.90M548.60,430.90L555.40,424.10" stroke="#1aa6e0" stroke-width="1.3" fill="none"/>
<path d="M573.80,427.10L580.60,433.90M573.80,433.90L580.60,427.10" stroke="#1aa6e0" stroke-width="1.3" fill="none"/>
<path d="M601.10,427.10L607.90,433.90M601.10,433.90L607.90,427.10" stroke="#1aa6e0" stroke-width="1.3" fill="none"/>
<path d="M592.40,430.40L599.20,437.20M592.40,437.20L599.20,430.40" stroke="#1aa6e0" stroke-width="1.3" fill="none"/>
<path d="M556.60,439.60L563.40,446.40M556.60,446.40L563.40,439.60" stroke="#1aa6e0" stroke-width="1.3" fill="none"/>
<path d="M571.80,442.30L578.60,449.10M571.80,449.10L578.60,442.30" stroke="#1aa6e0" stroke-width="1.3" fill="none"/>
<path d="M563.20,450.40L570.00,457.20M563.20,457.20L570.00,450.40" stroke="#1aa6e0" stroke-width="1.3" fill="none"/>
<path d="M601.30,446.20L608.10,453.00M601.30,453.00L608.10,446.20" stroke="#1aa6e0" stroke-width="1.3" fill="none"/>
<path d="M546.40,455.60L553.20,462.40M546.40,462.40L553.20,455.60" stroke="#1aa6e0" stroke-width="1.3" fill="none"/>
<path d="M578.30,458.50L585.10,465.30M578.30,465.30L585.10,458.50" stroke="#1aa6e0" stroke-width="1.3" fill="none"/>
<path d="M590.00,458.50L596.80,465.30M590.00,465.30L596.80,458.50" stroke="#1aa6e0" stroke-width="1.3" fill="none"/>
<path d="M597.30,456.90L604.10,463.70M597.30,463.70L604.10,456.90" stroke="#1aa6e0" stroke-width="1.3" fill="none"/>
<path d="M569.60,468.90L576.40,475.70M569.60,475.70L576.40,468.90" stroke="#1aa6e0" stroke-width="1.3" fill="none"/>
<path d="M569.60,479.20L576.40,486.00M569.60,486.00L576.40,479.20" stroke="#1aa6e0" stroke-width="1.3" fill="none"/>
<path d="M571.80,481.30L578.60,488.10M571.80,488.10L578.60,481.30" stroke="#1aa6e0" stroke-width="1.3" fill="none"/>
<ellipse cx="631.00" cy="368.20" rx="2.60" ry="2.81" fill="#e8312a"/>
<ellipse cx="603.80" cy="417.70" rx="2.60" ry="2.81" fill="#e8312a"/>
<ellipse cx="606.00" cy="416.20" rx="2.60" ry="2.81" fill="#e8312a"/>
<ellipse cx="615.30" cy="421.80" rx="2.60" ry="2.81" fill="#e8312a"/>
<ellipse cx="620.50" cy="424.30" rx="2.60" ry="2.81" fill="#e8312a"/>
<ellipse cx="638.40" cy="415.00" rx="2.60" ry="2.81" fill="#e8312a"/>
<ellipse cx="624.00" cy="429.70" rx="2.60" ry="2.81" fill="#e8312a"/>
<ellipse cx="608.80" cy="439.20" rx="2.60" ry="2.81" fill="#e8312a"/>
<ellipse cx="587.70" cy="463.90" rx="2.60" ry="2.81" fill="#e8312a"/>
<path d="M551.00,364.43L553.96,371.55L548.04,371.55Z" stroke="#111" stroke-width="1.2" fill="none" stroke-linejoin="miter"/>
<path d="M615.30,357.73L618.26,364.85L612.34,364.85Z" stroke="#111" stroke-width="1.2" fill="none" stroke-linejoin="miter"/>
<path d="M593.20,380.93L596.16,388.05L590.24,388.05Z" stroke="#111" stroke-width="1.2" fill="none" stroke-linejoin="miter"/>
<path d="M588.00,400.43L590.96,407.55L585.04,407.55Z" stroke="#111" stroke-width="1.2" fill="none" stroke-linejoin="miter"/>
<path d="M596.70,405.73L599.66,412.85L593.74,412.85Z" stroke="#111" stroke-width="1.2" fill="none" stroke-linejoin="miter"/>
<path d="M582.80,417.73L585.76,424.85L579.84,424.85Z" stroke="#111" stroke-width="1.2" fill="none" stroke-linejoin="miter"/>
<path d="M590.10,460.63L593.06,467.75L587.14,467.75Z" stroke="#111" stroke-width="1.2" fill="none" stroke-linejoin="miter"/>
<ellipse cx="642.80" cy="361.80" rx="2.60" ry="2.81" fill="#111"/>
<ellipse cx="606.90" cy="469.80" rx="2.60" ry="2.81" fill="#111"/>
<ellipse cx="622.60" cy="476.40" rx="2.60" ry="2.81" fill="#111"/>
<ellipse cx="631.30" cy="481.80" rx="2.60" ry="2.81" fill="#111"/>
<ellipse cx="641.80" cy="493.80" rx="2.60" ry="2.81" fill="#111"/>
<ellipse cx="606.90" cy="492.30" rx="2.60" ry="2.81" fill="#111"/>
<ellipse cx="614.00" cy="494.90" rx="2.60" ry="2.81" fill="#111"/>
<ellipse cx="620.80" cy="494.50" rx="2.60" ry="2.81" fill="#111"/>
<ellipse cx="624.50" cy="492.60" rx="2.60" ry="2.81" fill="#111"/>
<ellipse cx="627.90" cy="490.00" rx="2.60" ry="2.81" fill="#111"/>
<ellipse cx="631.30" cy="494.10" rx="2.60" ry="2.81" fill="#111"/>
<ellipse cx="635.00" cy="496.00" rx="2.60" ry="2.81" fill="#111"/>
<ellipse cx="616.30" cy="501.60" rx="2.60" ry="2.81" fill="#111"/>
<ellipse cx="625.60" cy="499.80" rx="2.60" ry="2.81" fill="#111"/>
<ellipse cx="626.80" cy="505.00" rx="2.60" ry="2.81" fill="#111"/>
<ellipse cx="629.80" cy="508.00" rx="2.60" ry="2.81" fill="#111"/>
<ellipse cx="633.50" cy="505.80" rx="2.60" ry="2.81" fill="#111"/>
<ellipse cx="608.80" cy="507.30" rx="2.60" ry="2.81" fill="#111"/>
<ellipse cx="617.40" cy="513.30" rx="2.60" ry="2.81" fill="#111"/>
<ellipse cx="623.80" cy="514.00" rx="2.60" ry="2.81" fill="#111"/>
<ellipse cx="629.00" cy="511.80" rx="2.60" ry="2.81" fill="#111"/>
<ellipse cx="620.80" cy="521.50" rx="2.60" ry="2.81" fill="#111"/>
<ellipse cx="624.50" cy="524.50" rx="2.60" ry="2.81" fill="#111"/>
<ellipse cx="632.40" cy="520.40" rx="2.60" ry="2.81" fill="#111"/>
<ellipse cx="630.10" cy="528.30" rx="2.60" ry="2.81" fill="#111"/>
<ellipse cx="614.00" cy="482.50" rx="2.60" ry="2.81" fill="#111"/>
<ellipse cx="613.30" cy="485.50" rx="2.60" ry="2.81" fill="#111"/>
<ellipse cx="622.00" cy="517.00" rx="2.60" ry="2.81" fill="#111"/>
<ellipse cx="627.00" cy="518.00" rx="2.60" ry="2.81" fill="#111"/>
<ellipse cx="618.00" cy="520.00" rx="2.60" ry="2.81" fill="#111"/>
<ellipse cx="626.00" cy="503.00" rx="2.60" ry="2.81" fill="#111"/>
<ellipse cx="631.00" cy="500.00" rx="2.60" ry="2.81" fill="#111"/>
<ellipse cx="628.00" cy="497.00" rx="2.60" ry="2.81" fill="#111"/>
<ellipse cx="628.00" cy="503.00" rx="2.60" ry="2.81" fill="#111"/>
<ellipse cx="631.00" cy="508.00" rx="2.60" ry="2.81" fill="#111"/>
<ellipse cx="627.00" cy="512.00" rx="2.60" ry="2.81" fill="#111"/>
<ellipse cx="633.00" cy="511.00" rx="2.60" ry="2.81" fill="#111"/>
<ellipse cx="625.00" cy="508.00" rx="2.60" ry="2.81" fill="#111"/>
<ellipse cx="629.00" cy="500.00" rx="2.60" ry="2.81" fill="#111"/>
<ellipse cx="608.00" cy="478.75" rx="2.60" ry="2.81" fill="#e8312a"/>
<ellipse cx="611.00" cy="477.30" rx="2.60" ry="2.81" fill="#e8312a"/>
<ellipse cx="617.40" cy="477.60" rx="2.60" ry="2.81" fill="#e8312a"/>
<ellipse cx="604.60" cy="484.40" rx="2.60" ry="2.81" fill="#e8312a"/>
<ellipse cx="614.00" cy="486.60" rx="2.60" ry="2.81" fill="#e8312a"/>
<ellipse cx="617.80" cy="485.50" rx="2.60" ry="2.81" fill="#e8312a"/>
<ellipse cx="620.00" cy="484.00" rx="2.60" ry="2.81" fill="#e8312a"/>
<ellipse cx="619.30" cy="488.50" rx="2.60" ry="2.81" fill="#e8312a"/>
<ellipse cx="602.60" cy="495.30" rx="2.60" ry="2.81" fill="#e8312a"/>
<ellipse cx="608.80" cy="500.50" rx="2.60" ry="2.81" fill="#e8312a"/>
<ellipse cx="611.80" cy="504.30" rx="2.60" ry="2.81" fill="#e8312a"/>
<ellipse cx="613.30" cy="507.30" rx="2.60" ry="2.81" fill="#e8312a"/>
<ellipse cx="620.80" cy="499.80" rx="2.60" ry="2.81" fill="#e8312a"/>
<ellipse cx="620.80" cy="503.50" rx="2.60" ry="2.81" fill="#e8312a"/>
<ellipse cx="620.80" cy="509.90" rx="2.60" ry="2.81" fill="#e8312a"/>
<ellipse cx="631.30" cy="500.50" rx="2.60" ry="2.81" fill="#e8312a"/>
<ellipse cx="637.60" cy="497.90" rx="2.60" ry="2.81" fill="#e8312a"/>
<ellipse cx="615.00" cy="488.00" rx="2.60" ry="2.81" fill="#e8312a"/>
<ellipse cx="619.00" cy="490.00" rx="2.60" ry="2.81" fill="#e8312a"/>
<ellipse cx="622.00" cy="487.00" rx="2.60" ry="2.81" fill="#e8312a"/>
<line x1="469.90" y1="335.20" x2="786.20" y2="335.20" stroke="#5a5a5a" stroke-width="1.4" stroke-linecap="butt"/>
<line x1="786.20" y1="335.20" x2="786.20" y2="558.20" stroke="#5a5a5a" stroke-width="1.4" stroke-linecap="butt"/>
<line x1="469.90" y1="335.20" x2="469.90" y2="558.20" stroke="#c6cad2" stroke-width="1.3" stroke-linecap="butt"/>
<line x1="469.90" y1="558.20" x2="786.20" y2="558.20" stroke="#c6cad2" stroke-width="1.3" stroke-linecap="butt"/>
<line x1="466.90" y1="558.20" x2="469.90" y2="558.20" stroke="#c6cad2" stroke-width="1" stroke-linecap="butt"/>
<line x1="466.90" y1="513.60" x2="469.90" y2="513.60" stroke="#c6cad2" stroke-width="1" stroke-linecap="butt"/>
<line x1="466.90" y1="469.00" x2="469.90" y2="469.00" stroke="#c6cad2" stroke-width="1" stroke-linecap="butt"/>
<line x1="466.90" y1="424.40" x2="469.90" y2="424.40" stroke="#c6cad2" stroke-width="1" stroke-linecap="butt"/>
<line x1="466.90" y1="379.80" x2="469.90" y2="379.80" stroke="#c6cad2" stroke-width="1" stroke-linecap="butt"/>
<line x1="466.90" y1="335.20" x2="469.90" y2="335.20" stroke="#c6cad2" stroke-width="1" stroke-linecap="butt"/>
<line x1="469.90" y1="558.20" x2="469.90" y2="561.70" stroke="#c6cad2" stroke-width="1" stroke-linecap="butt"/>
<line x1="501.53" y1="558.20" x2="501.53" y2="561.70" stroke="#c6cad2" stroke-width="1" stroke-linecap="butt"/>
<line x1="533.16" y1="558.20" x2="533.16" y2="561.70" stroke="#c6cad2" stroke-width="1" stroke-linecap="butt"/>
<line x1="564.79" y1="558.20" x2="564.79" y2="561.70" stroke="#c6cad2" stroke-width="1" stroke-linecap="butt"/>
<line x1="596.42" y1="558.20" x2="596.42" y2="561.70" stroke="#c6cad2" stroke-width="1" stroke-linecap="butt"/>
<line x1="628.05" y1="558.20" x2="628.05" y2="561.70" stroke="#c6cad2" stroke-width="1" stroke-linecap="butt"/>
<line x1="659.68" y1="558.20" x2="659.68" y2="561.70" stroke="#c6cad2" stroke-width="1" stroke-linecap="butt"/>
<line x1="691.31" y1="558.20" x2="691.31" y2="561.70" stroke="#c6cad2" stroke-width="1" stroke-linecap="butt"/>
<line x1="722.94" y1="558.20" x2="722.94" y2="561.70" stroke="#c6cad2" stroke-width="1" stroke-linecap="butt"/>
<line x1="754.57" y1="558.20" x2="754.57" y2="561.70" stroke="#c6cad2" stroke-width="1" stroke-linecap="butt"/>
<line x1="786.20" y1="558.20" x2="786.20" y2="561.70" stroke="#c6cad2" stroke-width="1" stroke-linecap="butt"/>
<text x="463.50" y="564.70" font-size="18" text-anchor="end" fill="#111">0</text>
<text x="462.00" y="520.10" font-size="18" text-anchor="end" fill="#111">0.2</text>
<text x="462.00" y="475.50" font-size="18" text-anchor="end" fill="#111">0.4</text>
<text x="462.00" y="430.90" font-size="18" text-anchor="end" fill="#111">0.6</text>
<text x="462.00" y="386.30" font-size="18" text-anchor="end" fill="#111">0.8</text>
<text x="462.00" y="341.70" font-size="18" text-anchor="end" fill="#111">1</text>
<text x="469.90" y="580.40" font-size="18" text-anchor="middle" fill="#111">15</text>
<text x="533.16" y="580.40" font-size="18" text-anchor="middle" fill="#111">19</text>
<text x="596.42" y="580.40" font-size="18" text-anchor="middle" fill="#111">23</text>
<text x="659.68" y="580.40" font-size="18" text-anchor="middle" fill="#111">27</text>
<text x="722.94" y="580.40" font-size="18" text-anchor="middle" fill="#111">31</text>
<text x="786.20" y="580.40" font-size="18" text-anchor="middle" fill="#111">35</text>
<text x="628.20" y="595.00" font-size="18.4" text-anchor="middle" fill="#111">Period (Hrs)</text>
<text x="429.20" y="443.80" font-size="18" text-anchor="middle" transform="rotate(-90 429.2 443.8)" fill="#111">RAE</text>
<text x="473.10" y="548.80" font-size="23.2" text-anchor="start" fill="#111">22˚C</text>
<rect x="667.40" y="481.60" width="118.80" height="76.60" fill="#fff" stroke="#5a5a5a" stroke-width="1.2"/>
<ellipse cx="671.60" cy="493.00" rx="2.30" ry="2.48" fill="#111"/>
<text x="678.20" y="497.60" font-size="16" text-anchor="start" fill="#111" textLength="66" lengthAdjust="spacingAndGlyphs">Wild type</text>
<ellipse cx="671.60" cy="511.60" rx="2.30" ry="2.48" fill="#e8312a"/>
<text x="678.20" y="515.00" font-size="16" text-anchor="start" font-style="italic" fill="#111" textLength="60" lengthAdjust="spacingAndGlyphs">jmjd5-1</text>
<path d="M669.00,528.40L674.20,533.60M669.00,533.60L674.20,528.40" stroke="#1aa6e0" stroke-width="1.1" fill="none"/>
<text x="678.20" y="535.00" font-size="16" text-anchor="start" font-style="italic" fill="#111" textLength="40" lengthAdjust="spacingAndGlyphs">lux-2</text>
<path d="M671.60,545.43L673.76,550.63L669.44,550.63Z" stroke="#111" stroke-width="0.9" fill="none" stroke-linejoin="miter"/>
<text x="678.20" y="552.40" font-size="16" text-anchor="start" font-style="italic" fill="#111" textLength="104.5" lengthAdjust="spacingAndGlyphs">jmjd5-1 lux-2</text>
<line x1="74.40" y1="792.00" x2="74.40" y2="820.00" stroke="#8a8a8a" stroke-width="1.3" stroke-linecap="butt"/>
<line x1="107.40" y1="780.00" x2="107.40" y2="799.00" stroke="#8a8a8a" stroke-width="1.3" stroke-linecap="butt"/>
<line x1="139.60" y1="765.00" x2="139.60" y2="774.00" stroke="#8a8a8a" stroke-width="1.3" stroke-linecap="butt"/>
<line x1="139.60" y1="781.00" x2="139.60" y2="787.00" stroke="#8a8a8a" stroke-width="1.3" stroke-linecap="butt"/>
<line x1="139.60" y1="800.00" x2="139.60" y2="813.00" stroke="#8a8a8a" stroke-width="1.3" stroke-linecap="butt"/>
<line x1="172.40" y1="746.00" x2="172.40" y2="778.00" stroke="#8a8a8a" stroke-width="1.3" stroke-linecap="butt"/>
<line x1="205.30" y1="733.60" x2="205.30" y2="751.60" stroke="#8a8a8a" stroke-width="1.3" stroke-linecap="butt"/>
<line x1="205.30" y1="763.30" x2="205.30" y2="772.90" stroke="#8a8a8a" stroke-width="1.3" stroke-linecap="butt"/>
<line x1="205.30" y1="780.30" x2="205.30" y2="788.80" stroke="#8a8a8a" stroke-width="1.3" stroke-linecap="butt"/>
<line x1="238.20" y1="724.00" x2="238.20" y2="764.40" stroke="#8a8a8a" stroke-width="1.3" stroke-linecap="butt"/>
<line x1="270.50" y1="713.40" x2="270.50" y2="762.20" stroke="#8a8a8a" stroke-width="1.3" stroke-linecap="butt"/>
<line x1="303.10" y1="707.00" x2="303.10" y2="735.00" stroke="#8a8a8a" stroke-width="1.3" stroke-linecap="butt"/>
<line x1="303.10" y1="739.00" x2="303.10" y2="765.40" stroke="#8a8a8a" stroke-width="1.3" stroke-linecap="butt"/>
<line x1="336.00" y1="698.00" x2="336.00" y2="741.00" stroke="#8a8a8a" stroke-width="1.3" stroke-linecap="butt"/>
<polyline points="54.00,805.00 62.00,802.00 70.00,799.00 78.00,795.60 86.00,793.00 94.00,790.00 102.00,788.00 110.00,784.00 118.00,781.00 126.00,778.00 134.00,775.00 140.00,772.00 148.00,768.00 156.00,764.00 164.00,759.00 172.00,754.40 180.00,751.00 188.00,749.00 196.00,747.00 204.00,743.00 208.50,742.00 217.00,740.00 225.50,737.20 234.00,734.60 242.50,731.40 251.00,728.90 259.50,726.10 268.00,723.60 276.50,720.80 285.00,719.30 293.50,717.60 302.00,715.90 309.40,715.10 317.90,711.20 327.50,708.70 336.00,707.00 344.50,704.90 353.00,702.70 361.50,701.70 368.90,700.20" fill="none" stroke="#111" stroke-width="1.7" stroke-dasharray="1.3,1.3" stroke-linejoin="round" stroke-linecap="butt"/>
<polyline points="54.00,811.00 62.00,809.00 70.00,807.00 78.00,805.00 86.00,803.00 94.00,800.00 102.00,797.00 110.00,794.00 118.00,791.00 126.00,788.00 134.00,787.00 142.00,784.40 150.00,781.60 158.00,779.00 166.00,776.40 174.00,774.00 182.00,773.00 190.00,770.00 198.00,768.00 203.00,767.50 208.50,765.40 217.00,763.30 225.50,760.10 234.00,759.70 242.50,757.60 251.00,756.30 259.50,754.80 268.00,751.60 276.50,748.40 285.00,745.70 293.50,744.20 302.00,739.90 310.50,737.80 319.00,734.60 327.50,732.50 336.00,730.40 344.50,727.20 353.00,727.80 361.50,727.80 368.90,726.10" fill="none" stroke="#2f86c8" stroke-width="2.1" stroke-dasharray="5,2.2" stroke-linejoin="round" stroke-linecap="butt"/>
<polyline points="54.00,823.00 60.00,823.00 67.00,819.00 74.00,813.00 80.00,804.00 86.00,794.00 94.00,787.60 100.00,791.00 107.00,796.00 114.00,802.00 121.00,806.00 127.00,807.00 133.00,806.00 139.00,802.40 145.00,794.00 152.00,784.00 159.00,774.00 166.00,765.60 172.00,765.60 178.00,770.00 185.00,776.00 192.00,781.00 199.00,785.00 205.30,784.60 211.70,780.30 219.10,771.80 226.60,762.20 234.00,752.70 241.40,746.30 249.90,745.20 257.40,747.80 264.80,751.60 272.20,754.80 278.60,756.30 286.10,753.70 293.50,749.50 300.90,743.10 308.40,737.20 315.80,730.00 323.20,726.10 329.60,724.60 337.10,728.20 344.50,732.50 350.90,734.20 357.20,734.60 363.60,731.40 368.90,728.20" fill="none" stroke="#e8312a" stroke-width="1.8" stroke-linejoin="round" stroke-linecap="butt"/>
<polyline points="54.00,825.00 61.00,826.60 68.00,824.40 74.00,817.00 81.00,808.00 87.00,796.00 93.00,789.00 99.00,791.00 106.00,795.00 113.00,802.00 120.00,807.00 127.00,811.00 134.00,813.00 140.00,812.40 146.00,805.00 152.00,794.00 158.00,780.00 165.00,763.00 172.00,752.00 179.00,752.00 186.00,760.00 193.00,769.00 199.00,778.00 205.30,784.60 211.70,790.50 219.10,787.70 225.50,780.30 231.90,768.60 239.30,753.70 245.70,738.90 251.00,727.20 257.40,722.90 263.70,725.10 270.10,733.60 276.50,746.30 283.90,759.10 290.30,766.50 296.70,767.60 303.10,763.30 310.50,751.60 317.90,736.70 325.40,722.90 332.80,712.30 341.30,710.80 349.80,716.60 357.20,727.20 362.60,736.30 368.90,742.10" fill="none" stroke="#111" stroke-width="1.8" stroke-linejoin="round" stroke-linecap="butt"/>
<line x1="54.60" y1="644.00" x2="368.50" y2="644.00" stroke="#c6cad2" stroke-width="1.2" stroke-linecap="butt"/>
<line x1="368.50" y1="644.00" x2="368.50" y2="867.40" stroke="#c6cad2" stroke-width="1.2" stroke-linecap="butt"/>
<line x1="54.60" y1="644.00" x2="54.60" y2="867.40" stroke="#c6cad2" stroke-width="1.2" stroke-linecap="butt"/>
<line x1="54.60" y1="867.40" x2="368.50" y2="867.40" stroke="#c6cad2" stroke-width="1.2" stroke-linecap="butt"/>
<line x1="51.60" y1="867.40" x2="54.60" y2="867.40" stroke="#c6cad2" stroke-width="1" stroke-linecap="butt"/>
<line x1="51.60" y1="830.17" x2="54.60" y2="830.17" stroke="#c6cad2" stroke-width="1" stroke-linecap="butt"/>
<line x1="51.60" y1="792.93" x2="54.60" y2="792.93" stroke="#c6cad2" stroke-width="1" stroke-linecap="butt"/>
<line x1="51.60" y1="755.70" x2="54.60" y2="755.70" stroke="#c6cad2" stroke-width="1" stroke-linecap="butt"/>
<line x1="51.60" y1="718.47" x2="54.60" y2="718.47" stroke="#c6cad2" stroke-width="1" stroke-linecap="butt"/>
<line x1="51.60" y1="681.23" x2="54.60" y2="681.23" stroke="#c6cad2" stroke-width="1" stroke-linecap="butt"/>
<line x1="51.60" y1="644.00" x2="54.60" y2="644.00" stroke="#c6cad2" stroke-width="1" stroke-linecap="butt"/>
<line x1="133.07" y1="867.40" x2="133.07" y2="870.40" stroke="#c6cad2" stroke-width="1" stroke-linecap="butt"/>
<line x1="211.55" y1="867.40" x2="211.55" y2="870.40" stroke="#c6cad2" stroke-width="1" stroke-linecap="butt"/>
<line x1="290.02" y1="867.40" x2="290.02" y2="870.40" stroke="#c6cad2" stroke-width="1" stroke-linecap="butt"/>
<line x1="54.60" y1="702.40" x2="159.00" y2="702.40" stroke="#c6cad2" stroke-width="1.2" stroke-linecap="butt"/>
<line x1="159.00" y1="644.00" x2="159.00" y2="702.40" stroke="#c6cad2" stroke-width="1.2" stroke-linecap="butt"/>
<line x1="58.00" y1="651.60" x2="72.00" y2="651.60" stroke="#333" stroke-width="1.2" stroke-linecap="butt"/>
<text x="76.00" y="656.20" font-size="13" text-anchor="start" fill="#111" textLength="49.6" lengthAdjust="spacingAndGlyphs">Wild type</text>
<line x1="58.00" y1="665.20" x2="72.00" y2="665.20" stroke="#e8312a" stroke-width="1.3" stroke-linecap="butt"/>
<text x="76.00" y="669.80" font-size="13" text-anchor="start" font-style="italic" fill="#111" textLength="44" lengthAdjust="spacingAndGlyphs">jmjd5-1</text>
<line x1="58.00" y1="679.60" x2="72.00" y2="679.60" stroke="#2f86c8" stroke-width="1.5" stroke-dasharray="2.5,1.5" stroke-linecap="butt"/>
<text x="76.00" y="684.20" font-size="13" text-anchor="start" font-style="italic" fill="#111" textLength="29" lengthAdjust="spacingAndGlyphs">lux-2</text>
<line x1="58.00" y1="692.60" x2="72.00" y2="692.60" stroke="#555" stroke-width="1.1" stroke-dasharray="1,1" stroke-linecap="butt"/>
<text x="76.00" y="697.20" font-size="13" text-anchor="start" font-style="italic" fill="#111" textLength="79" lengthAdjust="spacingAndGlyphs">jmjd5-1 lux-2</text>
<text x="48.50" y="874.60" font-size="17.5" text-anchor="end" fill="#111">0</text>
<text x="48.50" y="837.37" font-size="17.5" text-anchor="end" fill="#111">1</text>
<text x="48.50" y="800.13" font-size="17.5" text-anchor="end" fill="#111">2</text>
<text x="48.50" y="762.90" font-size="17.5" text-anchor="end" fill="#111">3</text>
<text x="48.50" y="725.67" font-size="17.5" text-anchor="end" fill="#111">4</text>
<text x="48.50" y="688.43" font-size="17.5" text-anchor="end" fill="#111">5</text>
<text x="48.50" y="651.20" font-size="17.5" text-anchor="end" fill="#111">6</text>
<text x="53.60" y="886.20" font-size="17.5" text-anchor="middle" fill="#111">24</text>
<text x="132.07" y="886.20" font-size="17.5" text-anchor="middle" fill="#111">48</text>
<text x="210.55" y="886.20" font-size="17.5" text-anchor="middle" fill="#111">72</text>
<text x="289.02" y="886.20" font-size="17.5" text-anchor="middle" fill="#111">96</text>
<text x="368.00" y="886.20" font-size="17.5" text-anchor="middle" fill="#111">120</text>
<text x="218.90" y="906.20" font-size="18" text-anchor="middle" fill="#111">Time in constant light (Hrs)</text>
<text x="31.30" y="755.00" font-size="18.3" text-anchor="middle" transform="rotate(-90 31.3 755)" fill="#111">Relative Bioluminescence</text>
<text x="57.70" y="861.80" font-size="23.5" text-anchor="start" fill="#111">27˚C</text>
<line x1="368.50" y1="689.70" x2="368.50" y2="711.00" stroke="#555" stroke-width="1.4" stroke-linecap="butt"/>
<line x1="368.50" y1="719.70" x2="368.50" y2="747.40" stroke="#555" stroke-width="1.4" stroke-linecap="butt"/>
<path d="M472.70,642.60L481.10,651.00M472.70,651.00L481.10,642.60" stroke="#1aa6e0" stroke-width="1.4" fill="none"/>
<path d="M479.40,666.80L487.80,675.20M479.40,675.20L487.80,666.80" stroke="#1aa6e0" stroke-width="1.4" fill="none"/>
<path d="M487.80,712.30L496.20,720.70M487.80,720.70L496.20,712.30" stroke="#1aa6e0" stroke-width="1.4" fill="none"/>
<path d="M487.80,749.40L496.20,757.80M487.80,757.80L496.20,749.40" stroke="#1aa6e0" stroke-width="1.4" fill="none"/>
<path d="M618.30,700.60L626.70,709.00M618.30,709.00L626.70,700.60" stroke="#1aa6e0" stroke-width="1.4" fill="none"/>
<path d="M617.40,710.50L625.80,718.90M617.40,718.90L625.80,710.50" stroke="#1aa6e0" stroke-width="1.4" fill="none"/>
<path d="M647.80,661.70L656.20,670.10M647.80,670.10L656.20,661.70" stroke="#1aa6e0" stroke-width="1.4" fill="none"/>
<path d="M673.80,656.10L682.20,664.50M673.80,664.50L682.20,656.10" stroke="#1aa6e0" stroke-width="1.4" fill="none"/>
<path d="M743.60,649.80L752.00,658.20M743.60,658.20L752.00,649.80" stroke="#1aa6e0" stroke-width="1.4" fill="none"/>
<path d="M648.40,693.20L656.80,701.60M648.40,701.60L656.80,693.20" stroke="#1aa6e0" stroke-width="1.4" fill="none"/>
<path d="M718.20,683.10L726.60,691.50M718.20,691.50L726.60,683.10" stroke="#1aa6e0" stroke-width="1.4" fill="none"/>
<path d="M728.80,697.70L737.20,706.10M728.80,706.10L737.20,697.70" stroke="#1aa6e0" stroke-width="1.4" fill="none"/>
<path d="M672.10,744.30L680.50,752.70M672.10,752.70L680.50,744.30" stroke="#1aa6e0" stroke-width="1.4" fill="none"/>
<path d="M725.60,748.30L734.00,756.70M725.60,756.70L734.00,748.30" stroke="#1aa6e0" stroke-width="1.4" fill="none"/>
<path d="M474.00,676.21L477.12,683.72L470.88,683.72Z" stroke="#111" stroke-width="1.2" fill="none" stroke-linejoin="miter"/>
<path d="M520.30,692.01L523.42,699.52L517.18,699.52Z" stroke="#111" stroke-width="1.2" fill="none" stroke-linejoin="miter"/>
<path d="M563.50,673.51L566.62,681.02L560.38,681.02Z" stroke="#111" stroke-width="1.2" fill="none" stroke-linejoin="miter"/>
<path d="M584.40,687.01L587.52,694.52L581.28,694.52Z" stroke="#111" stroke-width="1.2" fill="none" stroke-linejoin="miter"/>
<path d="M599.50,688.61L602.62,696.12L596.38,696.12Z" stroke="#111" stroke-width="1.2" fill="none" stroke-linejoin="miter"/>
<path d="M600.60,681.81L603.72,689.32L597.48,689.32Z" stroke="#111" stroke-width="1.2" fill="none" stroke-linejoin="miter"/>
<path d="M602.90,683.01L606.02,690.52L599.78,690.52Z" stroke="#111" stroke-width="1.2" fill="none" stroke-linejoin="miter"/>
<path d="M613.00,656.01L616.12,663.52L609.88,663.52Z" stroke="#111" stroke-width="1.2" fill="none" stroke-linejoin="miter"/>
<path d="M512.90,745.51L516.02,753.02L509.78,753.02Z" stroke="#111" stroke-width="1.2" fill="none" stroke-linejoin="miter"/>
<path d="M654.90,702.11L658.02,709.62L651.78,709.62Z" stroke="#111" stroke-width="1.2" fill="none" stroke-linejoin="miter"/>
<path d="M767.40,703.21L770.52,710.72L764.28,710.72Z" stroke="#111" stroke-width="1.2" fill="none" stroke-linejoin="miter"/>
<path d="M780.20,672.81L783.32,680.32L777.08,680.32Z" stroke="#111" stroke-width="1.2" fill="none" stroke-linejoin="miter"/>
<path d="M780.20,740.31L783.32,747.82L777.08,747.82Z" stroke="#111" stroke-width="1.2" fill="none" stroke-linejoin="miter"/>
<ellipse cx="518.00" cy="728.20" rx="2.60" ry="2.81" fill="#e8312a"/>
<ellipse cx="780.20" cy="645.60" rx="2.60" ry="2.81" fill="#e8312a"/>
<ellipse cx="686.40" cy="678.90" rx="2.60" ry="2.81" fill="#e8312a"/>
<ellipse cx="666.60" cy="691.10" rx="2.60" ry="2.81" fill="#e8312a"/>
<ellipse cx="757.30" cy="728.40" rx="2.60" ry="2.81" fill="#e8312a"/>
<ellipse cx="779.30" cy="671.00" rx="2.60" ry="2.81" fill="#111"/>
<ellipse cx="640.30" cy="714.90" rx="2.60" ry="2.81" fill="#111"/>
<ellipse cx="630.80" cy="757.50" rx="2.60" ry="2.81" fill="#e8312a"/>
<ellipse cx="611.75" cy="764.25" rx="2.60" ry="2.81" fill="#e8312a"/>
<ellipse cx="610.00" cy="766.80" rx="2.60" ry="2.81" fill="#e8312a"/>
<ellipse cx="616.25" cy="772.50" rx="2.60" ry="2.81" fill="#e8312a"/>
<ellipse cx="581.30" cy="776.25" rx="2.60" ry="2.81" fill="#e8312a"/>
<ellipse cx="590.75" cy="785.70" rx="2.60" ry="2.81" fill="#e8312a"/>
<ellipse cx="583.25" cy="796.20" rx="2.60" ry="2.81" fill="#e8312a"/>
<ellipse cx="591.50" cy="797.70" rx="2.60" ry="2.81" fill="#e8312a"/>
<ellipse cx="581.30" cy="802.80" rx="2.60" ry="2.81" fill="#e8312a"/>
<ellipse cx="590.75" cy="802.50" rx="2.60" ry="2.81" fill="#e8312a"/>
<ellipse cx="597.20" cy="802.80" rx="2.60" ry="2.81" fill="#e8312a"/>
<ellipse cx="594.20" cy="807.75" rx="2.60" ry="2.81" fill="#e8312a"/>
<ellipse cx="568.70" cy="809.70" rx="2.60" ry="2.81" fill="#e8312a"/>
<ellipse cx="592.25" cy="811.50" rx="2.60" ry="2.81" fill="#e8312a"/>
<ellipse cx="575.00" cy="814.80" rx="2.60" ry="2.81" fill="#e8312a"/>
<ellipse cx="583.25" cy="814.80" rx="2.60" ry="2.81" fill="#e8312a"/>
<ellipse cx="592.25" cy="813.75" rx="2.60" ry="2.81" fill="#e8312a"/>
<ellipse cx="604.25" cy="813.75" rx="2.60" ry="2.81" fill="#e8312a"/>
<ellipse cx="611.75" cy="808.20" rx="2.60" ry="2.81" fill="#e8312a"/>
<ellipse cx="602.30" cy="820.20" rx="2.60" ry="2.81" fill="#e8312a"/>
<ellipse cx="595.25" cy="823.20" rx="2.60" ry="2.81" fill="#e8312a"/>
<ellipse cx="600.50" cy="826.50" rx="2.60" ry="2.81" fill="#e8312a"/>
<ellipse cx="593.75" cy="827.25" rx="2.60" ry="2.81" fill="#e8312a"/>
<ellipse cx="586.70" cy="828.30" rx="2.60" ry="2.81" fill="#e8312a"/>
<ellipse cx="599.30" cy="829.50" rx="2.60" ry="2.81" fill="#e8312a"/>
<ellipse cx="602.75" cy="819.75" rx="2.60" ry="2.81" fill="#e8312a"/>
<ellipse cx="634.00" cy="772.30" rx="2.60" ry="2.81" fill="#111"/>
<ellipse cx="631.70" cy="780.60" rx="2.60" ry="2.81" fill="#111"/>
<ellipse cx="645.40" cy="787.00" rx="2.60" ry="2.81" fill="#111"/>
<ellipse cx="633.80" cy="772.50" rx="2.60" ry="2.81" fill="#111"/>
<ellipse cx="632.00" cy="780.30" rx="2.60" ry="2.81" fill="#111"/>
<ellipse cx="645.50" cy="786.75" rx="2.60" ry="2.81" fill="#111"/>
<ellipse cx="625.25" cy="794.25" rx="2.60" ry="2.81" fill="#111"/>
<ellipse cx="645.50" cy="812.25" rx="2.60" ry="2.81" fill="#111"/>
<ellipse cx="615.20" cy="803.25" rx="2.60" ry="2.81" fill="#111"/>
<ellipse cx="623.00" cy="804.00" rx="2.60" ry="2.81" fill="#111"/>
<ellipse cx="626.00" cy="807.00" rx="2.60" ry="2.81" fill="#111"/>
<ellipse cx="634.25" cy="807.75" rx="2.60" ry="2.81" fill="#111"/>
<ellipse cx="636.50" cy="810.75" rx="2.60" ry="2.81" fill="#111"/>
<ellipse cx="610.25" cy="815.25" rx="2.60" ry="2.81" fill="#111"/>
<ellipse cx="608.75" cy="820.50" rx="2.60" ry="2.81" fill="#111"/>
<ellipse cx="617.00" cy="814.50" rx="2.60" ry="2.81" fill="#111"/>
<ellipse cx="623.00" cy="813.00" rx="2.60" ry="2.81" fill="#111"/>
<ellipse cx="629.00" cy="814.50" rx="2.60" ry="2.81" fill="#111"/>
<ellipse cx="632.00" cy="820.50" rx="2.60" ry="2.81" fill="#111"/>
<ellipse cx="626.00" cy="822.00" rx="2.60" ry="2.81" fill="#111"/>
<ellipse cx="620.00" cy="820.50" rx="2.60" ry="2.81" fill="#111"/>
<ellipse cx="614.75" cy="826.50" rx="2.60" ry="2.81" fill="#111"/>
<ellipse cx="621.50" cy="828.00" rx="2.60" ry="2.81" fill="#111"/>
<ellipse cx="627.50" cy="828.00" rx="2.60" ry="2.81" fill="#111"/>
<ellipse cx="633.50" cy="825.00" rx="2.60" ry="2.81" fill="#111"/>
<ellipse cx="640.25" cy="828.00" rx="2.60" ry="2.81" fill="#111"/>
<ellipse cx="637.25" cy="831.00" rx="2.60" ry="2.81" fill="#111"/>
<ellipse cx="620.00" cy="834.00" rx="2.60" ry="2.81" fill="#111"/>
<ellipse cx="622.25" cy="837.00" rx="2.60" ry="2.81" fill="#111"/>
<ellipse cx="590.75" cy="841.50" rx="2.60" ry="2.81" fill="#111"/>
<ellipse cx="605.75" cy="840.00" rx="2.60" ry="2.81" fill="#111"/>
<ellipse cx="606.50" cy="842.25" rx="2.60" ry="2.81" fill="#111"/>
<ellipse cx="611.75" cy="843.00" rx="2.60" ry="2.81" fill="#111"/>
<ellipse cx="619.25" cy="834.75" rx="2.60" ry="2.81" fill="#111"/>
<ellipse cx="621.50" cy="837.30" rx="2.60" ry="2.81" fill="#111"/>
<ellipse cx="638.00" cy="830.25" rx="2.60" ry="2.81" fill="#111"/>
<ellipse cx="604.25" cy="825.00" rx="2.60" ry="2.81" fill="#111"/>
<ellipse cx="609.50" cy="819.00" rx="2.60" ry="2.81" fill="#111"/>
<ellipse cx="608.75" cy="816.00" rx="2.60" ry="2.81" fill="#111"/>
<ellipse cx="612.50" cy="826.50" rx="2.60" ry="2.81" fill="#111"/>
<ellipse cx="618.50" cy="827.25" rx="2.60" ry="2.81" fill="#111"/>
<ellipse cx="626.00" cy="828.00" rx="2.60" ry="2.81" fill="#111"/>
<ellipse cx="630.50" cy="829.50" rx="2.60" ry="2.81" fill="#111"/>
<ellipse cx="617.00" cy="817.50" rx="2.60" ry="2.81" fill="#111"/>
<ellipse cx="620.00" cy="813.00" rx="2.60" ry="2.81" fill="#111"/>
<ellipse cx="627.50" cy="813.00" rx="2.60" ry="2.81" fill="#111"/>
<ellipse cx="633.50" cy="812.25" rx="2.60" ry="2.81" fill="#111"/>
<ellipse cx="626.00" cy="823.50" rx="2.60" ry="2.81" fill="#111"/>
<ellipse cx="621.50" cy="823.50" rx="2.60" ry="2.81" fill="#111"/>
<ellipse cx="635.00" cy="813.00" rx="2.60" ry="2.81" fill="#111"/>
<ellipse cx="624.00" cy="810.00" rx="2.60" ry="2.81" fill="#111"/>
<ellipse cx="630.00" cy="808.00" rx="2.60" ry="2.81" fill="#111"/>
<ellipse cx="619.00" cy="808.00" rx="2.60" ry="2.81" fill="#111"/>
<ellipse cx="612.80" cy="804.80" rx="2.60" ry="2.81" fill="#111"/>
<ellipse cx="614.60" cy="808.80" rx="2.60" ry="2.81" fill="#111"/>
<ellipse cx="613.40" cy="812.80" rx="2.60" ry="2.81" fill="#111"/>
<ellipse cx="615.20" cy="816.80" rx="2.60" ry="2.81" fill="#111"/>
<ellipse cx="614.00" cy="820.80" rx="2.60" ry="2.81" fill="#111"/>
<ellipse cx="612.80" cy="824.80" rx="2.60" ry="2.81" fill="#111"/>
<ellipse cx="618.00" cy="806.60" rx="2.60" ry="2.81" fill="#111"/>
<ellipse cx="616.80" cy="810.60" rx="2.60" ry="2.81" fill="#111"/>
<ellipse cx="618.60" cy="814.60" rx="2.60" ry="2.81" fill="#111"/>
<ellipse cx="617.40" cy="818.60" rx="2.60" ry="2.81" fill="#111"/>
<ellipse cx="619.20" cy="822.60" rx="2.60" ry="2.81" fill="#111"/>
<ellipse cx="618.00" cy="826.60" rx="2.60" ry="2.81" fill="#111"/>
<ellipse cx="623.20" cy="805.40" rx="2.60" ry="2.81" fill="#111"/>
<ellipse cx="622.00" cy="809.40" rx="2.60" ry="2.81" fill="#111"/>
<ellipse cx="620.80" cy="813.40" rx="2.60" ry="2.81" fill="#111"/>
<ellipse cx="622.60" cy="817.40" rx="2.60" ry="2.81" fill="#111"/>
<ellipse cx="621.40" cy="821.40" rx="2.60" ry="2.81" fill="#111"/>
<ellipse cx="623.20" cy="825.40" rx="2.60" ry="2.81" fill="#111"/>
<ellipse cx="625.40" cy="807.20" rx="2.60" ry="2.81" fill="#111"/>
<ellipse cx="627.20" cy="811.20" rx="2.60" ry="2.81" fill="#111"/>
<ellipse cx="626.00" cy="815.20" rx="2.60" ry="2.81" fill="#111"/>
<ellipse cx="624.80" cy="819.20" rx="2.60" ry="2.81" fill="#111"/>
<ellipse cx="626.60" cy="823.20" rx="2.60" ry="2.81" fill="#111"/>
<ellipse cx="625.40" cy="827.20" rx="2.60" ry="2.81" fill="#111"/>
<ellipse cx="630.60" cy="806.00" rx="2.60" ry="2.81" fill="#111"/>
<ellipse cx="629.40" cy="810.00" rx="2.60" ry="2.81" fill="#111"/>
<ellipse cx="631.20" cy="814.00" rx="2.60" ry="2.81" fill="#111"/>
<ellipse cx="630.00" cy="818.00" rx="2.60" ry="2.81" fill="#111"/>
<ellipse cx="628.80" cy="822.00" rx="2.60" ry="2.81" fill="#111"/>
<ellipse cx="630.60" cy="826.00" rx="2.60" ry="2.81" fill="#111"/>
<ellipse cx="632.80" cy="804.80" rx="2.60" ry="2.81" fill="#111"/>
<ellipse cx="634.60" cy="808.80" rx="2.60" ry="2.81" fill="#111"/>
<ellipse cx="633.40" cy="812.80" rx="2.60" ry="2.81" fill="#111"/>
<ellipse cx="635.20" cy="816.80" rx="2.60" ry="2.81" fill="#111"/>
<ellipse cx="634.00" cy="820.80" rx="2.60" ry="2.81" fill="#111"/>
<ellipse cx="632.80" cy="824.80" rx="2.60" ry="2.81" fill="#111"/>
<ellipse cx="606.00" cy="812.00" rx="2.60" ry="2.81" fill="#111"/>
<ellipse cx="610.00" cy="822.00" rx="2.60" ry="2.81" fill="#111"/>
<ellipse cx="603.00" cy="818.00" rx="2.60" ry="2.81" fill="#111"/>
<ellipse cx="612.00" cy="830.00" rx="2.60" ry="2.81" fill="#111"/>
<ellipse cx="616.00" cy="832.00" rx="2.60" ry="2.81" fill="#111"/>
<ellipse cx="638.00" cy="818.00" rx="2.60" ry="2.81" fill="#111"/>
<ellipse cx="640.00" cy="822.00" rx="2.60" ry="2.81" fill="#111"/>
<ellipse cx="626.75" cy="797.70" rx="2.60" ry="2.81" fill="#e8312a"/>
<ellipse cx="614.00" cy="816.00" rx="2.60" ry="2.81" fill="#e8312a"/>
<ellipse cx="611.75" cy="808.20" rx="2.60" ry="2.81" fill="#e8312a"/>
<line x1="468.80" y1="645.80" x2="783.60" y2="645.80" stroke="#1a1a1a" stroke-width="1.4" stroke-linecap="butt"/>
<line x1="783.60" y1="645.80" x2="783.60" y2="868.00" stroke="#1a1a1a" stroke-width="1.4" stroke-linecap="butt"/>
<line x1="468.80" y1="645.80" x2="468.80" y2="868.00" stroke="#c6cad2" stroke-width="1.3" stroke-linecap="butt"/>
<line x1="468.80" y1="868.00" x2="783.60" y2="868.00" stroke="#c6cad2" stroke-width="1.3" stroke-linecap="butt"/>
<line x1="465.80" y1="868.00" x2="468.80" y2="868.00" stroke="#c6cad2" stroke-width="1" stroke-linecap="butt"/>
<line x1="465.80" y1="823.56" x2="468.80" y2="823.56" stroke="#c6cad2" stroke-width="1" stroke-linecap="butt"/>
<line x1="465.80" y1="779.12" x2="468.80" y2="779.12" stroke="#c6cad2" stroke-width="1" stroke-linecap="butt"/>
<line x1="465.80" y1="734.68" x2="468.80" y2="734.68" stroke="#c6cad2" stroke-width="1" stroke-linecap="butt"/>
<line x1="465.80" y1="690.24" x2="468.80" y2="690.24" stroke="#c6cad2" stroke-width="1" stroke-linecap="butt"/>
<line x1="465.80" y1="645.80" x2="468.80" y2="645.80" stroke="#c6cad2" stroke-width="1" stroke-linecap="butt"/>
<line x1="468.80" y1="868.00" x2="468.80" y2="871.50" stroke="#c6cad2" stroke-width="1" stroke-linecap="butt"/>
<line x1="500.28" y1="868.00" x2="500.28" y2="871.50" stroke="#c6cad2" stroke-width="1" stroke-linecap="butt"/>
<line x1="531.76" y1="868.00" x2="531.76" y2="871.50" stroke="#c6cad2" stroke-width="1" stroke-linecap="butt"/>
<line x1="563.24" y1="868.00" x2="563.24" y2="871.50" stroke="#c6cad2" stroke-width="1" stroke-linecap="butt"/>
<line x1="594.72" y1="868.00" x2="594.72" y2="871.50" stroke="#c6cad2" stroke-width="1" stroke-linecap="butt"/>
<line x1="626.20" y1="868.00" x2="626.20" y2="871.50" stroke="#c6cad2" stroke-width="1" stroke-linecap="butt"/>
<line x1="657.68" y1="868.00" x2="657.68" y2="871.50" stroke="#c6cad2" stroke-width="1" stroke-linecap="butt"/>
<line x1="689.16" y1="868.00" x2="689.16" y2="871.50" stroke="#c6cad2" stroke-width="1" stroke-linecap="butt"/>
<line x1="720.64" y1="868.00" x2="720.64" y2="871.50" stroke="#c6cad2" stroke-width="1" stroke-linecap="butt"/>
<line x1="752.12" y1="868.00" x2="752.12" y2="871.50" stroke="#c6cad2" stroke-width="1" stroke-linecap="butt"/>
<line x1="783.60" y1="868.00" x2="783.60" y2="871.50" stroke="#c6cad2" stroke-width="1" stroke-linecap="butt"/>
<text x="462.50" y="875.00" font-size="18" text-anchor="end" fill="#111">0</text>
<text x="461.00" y="830.56" font-size="18" text-anchor="end" fill="#111">0.2</text>
<text x="461.00" y="786.12" font-size="18" text-anchor="end" fill="#111">0.4</text>
<text x="461.00" y="741.68" font-size="18" text-anchor="end" fill="#111">0.6</text>
<text x="461.00" y="697.24" font-size="18" text-anchor="end" fill="#111">0.8</text>
<text x="461.00" y="652.80" font-size="18" text-anchor="end" fill="#111">1</text>
<text x="468.80" y="888.30" font-size="18" text-anchor="middle" fill="#111">15</text>
<text x="531.76" y="888.30" font-size="18" text-anchor="middle" fill="#111">19</text>
<text x="594.72" y="888.30" font-size="18" text-anchor="middle" fill="#111">23</text>
<text x="657.68" y="888.30" font-size="18" text-anchor="middle" fill="#111">27</text>
<text x="720.64" y="888.30" font-size="18" text-anchor="middle" fill="#111">31</text>
<text x="783.60" y="888.30" font-size="18" text-anchor="middle" fill="#111">35</text>
<text x="627.40" y="904.40" font-size="18.4" text-anchor="middle" fill="#111">Period (Hrs)</text>
<text x="428.90" y="753.80" font-size="18" text-anchor="middle" transform="rotate(-90 428.9 753.8)" fill="#111">RAE</text>
<text x="473.70" y="862.00" font-size="23.2" text-anchor="start" fill="#111">27˚C</text>
<rect x="665.40" y="793.00" width="118.20" height="75.00" fill="#fff" stroke="#5a5a5a" stroke-width="1.2"/>
<ellipse cx="670.00" cy="804.20" rx="2.30" ry="2.48" fill="#111"/>
<text x="676.70" y="808.80" font-size="16" text-anchor="start" fill="#111" textLength="66" lengthAdjust="spacingAndGlyphs">Wild type</text>
<ellipse cx="670.00" cy="822.60" rx="2.30" ry="2.48" fill="#e8312a"/>
<text x="676.70" y="827.60" font-size="16" text-anchor="start" font-style="italic" fill="#111" textLength="60" lengthAdjust="spacingAndGlyphs">jmjd5-1</text>
<path d="M667.40,839.80L672.60,845.00M667.40,845.00L672.60,839.80" stroke="#1aa6e0" stroke-width="1.1" fill="none"/>
<text x="676.70" y="846.20" font-size="16" text-anchor="start" font-style="italic" fill="#111" textLength="40" lengthAdjust="spacingAndGlyphs">lux-2</text>
<path d="M670.00,857.43L672.16,862.63L667.84,862.63Z" stroke="#111" stroke-width="0.9" fill="none" stroke-linejoin="miter"/>
<text x="676.70" y="864.50" font-size="16" text-anchor="start" font-style="italic" fill="#111" textLength="104.5" lengthAdjust="spacingAndGlyphs">jmjd5-1 lux-2</text>
<line x1="145.20" y1="988.85" x2="145.20" y2="1006.29" stroke="#888" stroke-width="1.4" stroke-linecap="butt"/>
<line x1="190.00" y1="1094.24" x2="190.00" y2="1115.88" stroke="#888" stroke-width="1.4" stroke-linecap="butt"/>
<line x1="324.40" y1="1083.42" x2="324.40" y2="1121.81" stroke="#888" stroke-width="1.4" stroke-linecap="butt"/>
<line x1="100.40" y1="1144.15" x2="100.40" y2="1156.37" stroke="#888" stroke-width="1.2" stroke-linecap="butt"/>
<polyline points="100.40,1152.18 145.20,1024.79 190.00,1104.01 324.40,1093.20" fill="none" stroke="#111" stroke-width="2.2" stroke-linejoin="round" stroke-linecap="butt"/>
<polyline points="100.40,1159.86 145.20,1035.26 190.00,1114.48 324.40,1104.01" fill="none" stroke="#e8312a" stroke-width="2.2" stroke-linejoin="round" stroke-linecap="butt"/>
<polyline points="100.40,1150.08 145.20,1004.20 190.00,1108.90 324.40,1109.95" fill="none" stroke="#111" stroke-width="2.0" stroke-dasharray="1.6,1.6" stroke-linejoin="round" stroke-linecap="butt"/>
<polyline points="100.40,1147.99 145.20,996.17 190.00,1097.38 324.40,1092.85" fill="none" stroke="#2f86c8" stroke-width="2.4" stroke-dasharray="7.5,4.5" stroke-linejoin="round" stroke-linecap="butt"/>
<line x1="55.60" y1="952.20" x2="369.20" y2="952.20" stroke="#222" stroke-width="1.5" stroke-linecap="butt"/>
<line x1="369.20" y1="952.20" x2="369.20" y2="1161.60" stroke="#222" stroke-width="1.5" stroke-linecap="butt"/>
<line x1="55.60" y1="952.20" x2="55.60" y2="1161.60" stroke="#c6cad2" stroke-width="1.3" stroke-linecap="butt"/>
<line x1="55.60" y1="1161.60" x2="369.20" y2="1161.60" stroke="#c6cad2" stroke-width="1.3" stroke-linecap="butt"/>
<line x1="52.10" y1="1161.60" x2="55.60" y2="1161.60" stroke="#c6cad2" stroke-width="1" stroke-linecap="butt"/>
<line x1="52.10" y1="1126.70" x2="55.60" y2="1126.70" stroke="#c6cad2" stroke-width="1" stroke-linecap="butt"/>
<line x1="52.10" y1="1091.80" x2="55.60" y2="1091.80" stroke="#c6cad2" stroke-width="1" stroke-linecap="butt"/>
<line x1="52.10" y1="1056.90" x2="55.60" y2="1056.90" stroke="#c6cad2" stroke-width="1" stroke-linecap="butt"/>
<line x1="52.10" y1="1022.00" x2="55.60" y2="1022.00" stroke="#c6cad2" stroke-width="1" stroke-linecap="butt"/>
<line x1="52.10" y1="987.10" x2="55.60" y2="987.10" stroke="#c6cad2" stroke-width="1" stroke-linecap="butt"/>
<line x1="52.10" y1="952.20" x2="55.60" y2="952.20" stroke="#c6cad2" stroke-width="1" stroke-linecap="butt"/>
<line x1="55.60" y1="1161.60" x2="55.60" y2="1165.10" stroke="#c6cad2" stroke-width="1" stroke-linecap="butt"/>
<line x1="100.40" y1="1161.60" x2="100.40" y2="1165.10" stroke="#c6cad2" stroke-width="1" stroke-linecap="butt"/>
<line x1="145.20" y1="1161.60" x2="145.20" y2="1165.10" stroke="#c6cad2" stroke-width="1" stroke-linecap="butt"/>
<line x1="190.00" y1="1161.60" x2="190.00" y2="1165.10" stroke="#c6cad2" stroke-width="1" stroke-linecap="butt"/>
<line x1="234.80" y1="1161.60" x2="234.80" y2="1165.10" stroke="#c6cad2" stroke-width="1" stroke-linecap="butt"/>
<line x1="279.60" y1="1161.60" x2="279.60" y2="1165.10" stroke="#c6cad2" stroke-width="1" stroke-linecap="butt"/>
<line x1="324.40" y1="1161.60" x2="324.40" y2="1165.10" stroke="#c6cad2" stroke-width="1" stroke-linecap="butt"/>
<line x1="369.20" y1="1161.60" x2="369.20" y2="1165.10" stroke="#c6cad2" stroke-width="1" stroke-linecap="butt"/>
<text x="53.50" y="1166.30" font-size="16" text-anchor="end" fill="#111">0</text>
<text x="53.50" y="1131.40" font-size="16" text-anchor="end" fill="#111">1</text>
<text x="53.50" y="1096.50" font-size="16" text-anchor="end" fill="#111">2</text>
<text x="53.50" y="1061.60" font-size="16" text-anchor="end" fill="#111">3</text>
<text x="53.50" y="1026.70" font-size="16" text-anchor="end" fill="#111">4</text>
<text x="53.50" y="991.80" font-size="16" text-anchor="end" fill="#111">5</text>
<text x="53.50" y="956.90" font-size="16" text-anchor="end" fill="#111">6</text>
<text x="54.10" y="1178.75" font-size="16" text-anchor="middle" fill="#111">-1</text>
<text x="100.40" y="1178.75" font-size="16" text-anchor="middle" fill="#111">0</text>
<text x="145.20" y="1178.75" font-size="16" text-anchor="middle" fill="#111">1</text>
<text x="190.00" y="1178.75" font-size="16" text-anchor="middle" fill="#111">2</text>
<text x="234.80" y="1178.75" font-size="16" text-anchor="middle" fill="#111">3</text>
<text x="279.60" y="1178.75" font-size="16" text-anchor="middle" fill="#111">4</text>
<text x="324.40" y="1178.75" font-size="16" text-anchor="middle" fill="#111">5</text>
<text x="369.20" y="1178.75" font-size="16" text-anchor="middle" fill="#111">6</text>
<text x="215.60" y="1196.30" font-size="18" text-anchor="middle" fill="#111">Time since dawn (Hrs)</text>
<text x="37.50" y="1051.40" font-size="18" text-anchor="middle" font-style="italic" transform="rotate(-90 37.5 1051.4)" fill="#111">PRR9/PP2a</text>
<text x="311.00" y="1156.00" font-size="23.5" text-anchor="start" fill="#111">22˚C</text>
<rect x="256.60" y="952.50" width="112.90" height="59.70" fill="#fff" stroke="#111" stroke-width="1.3"/>
<line x1="260.20" y1="960.60" x2="283.10" y2="960.60" stroke="#111" stroke-width="2.2" stroke-linecap="butt"/>
<text x="286.25" y="966.10" font-size="13" text-anchor="start" fill="#111" textLength="49.4" lengthAdjust="spacingAndGlyphs">Wild type</text>
<line x1="260.20" y1="974.20" x2="283.10" y2="974.20" stroke="#e8312a" stroke-width="2.2" stroke-linecap="butt"/>
<text x="287.45" y="979.20" font-size="13" text-anchor="start" font-style="italic" fill="#111" textLength="44.5" lengthAdjust="spacingAndGlyphs">jmjd5-1</text>
<line x1="260.20" y1="987.50" x2="283.10" y2="987.50" stroke="#2f86c8" stroke-width="2.4" stroke-dasharray="7.5,6.5" stroke-linecap="butt"/>
<text x="287.45" y="993.30" font-size="13" text-anchor="start" font-style="italic" fill="#111" textLength="28" lengthAdjust="spacingAndGlyphs">lux-2</text>
<line x1="260.20" y1="1000.90" x2="283.10" y2="1000.90" stroke="#111" stroke-width="2.0" stroke-dasharray="1.6,1.6" stroke-linecap="butt"/>
<text x="287.45" y="1005.80" font-size="13" text-anchor="start" font-style="italic" fill="#111" textLength="77.8" lengthAdjust="spacingAndGlyphs">jmjd5-1 lux-2</text>
<line x1="514.14" y1="1079.04" x2="514.14" y2="1093.60" stroke="#666" stroke-width="1.1" stroke-linecap="butt"/>
<line x1="514.14" y1="1106.08" x2="514.14" y2="1122.20" stroke="#666" stroke-width="1.1" stroke-linecap="butt"/>
<line x1="558.89" y1="1086.84" x2="558.89" y2="1121.16" stroke="#666" stroke-width="1.1" stroke-linecap="butt"/>
<line x1="558.89" y1="1128.96" x2="558.89" y2="1138.84" stroke="#666" stroke-width="1.1" stroke-linecap="butt"/>
<line x1="603.63" y1="1083.20" x2="603.63" y2="1130.00" stroke="#666" stroke-width="1.1" stroke-linecap="butt"/>
<line x1="737.86" y1="992.20" x2="737.86" y2="1049.40" stroke="#666" stroke-width="1.1" stroke-linecap="butt"/>
<polyline points="514.14,1156.52 558.89,1133.12 603.63,1126.88 737.86,1039.52" fill="none" stroke="#111" stroke-width="2.2" stroke-linejoin="round" stroke-linecap="butt"/>
<polyline points="514.14,1154.44 558.89,1133.12 603.63,1115.70 737.86,1042.64" fill="none" stroke="#e8312a" stroke-width="2.2" stroke-linejoin="round" stroke-linecap="butt"/>
<polyline points="514.14,1087.36 558.89,1098.80 603.63,1089.44 737.86,1011.44" fill="none" stroke="#111" stroke-width="2.0" stroke-dasharray="1.6,1.6" stroke-linejoin="round" stroke-linecap="butt"/>
<polyline points="514.14,1111.80 558.89,1106.08 603.63,1106.60 737.86,1035.88" fill="none" stroke="#2f86c8" stroke-width="2.4" stroke-dasharray="7.5,4.5" stroke-linejoin="round" stroke-linecap="butt"/>
<line x1="469.40" y1="953.20" x2="782.60" y2="953.20" stroke="#111" stroke-width="1.5" stroke-linecap="butt"/>
<line x1="782.60" y1="953.20" x2="782.60" y2="1161.20" stroke="#111" stroke-width="1.5" stroke-linecap="butt"/>
<line x1="469.40" y1="953.20" x2="469.40" y2="1161.20" stroke="#c6cad2" stroke-width="1.3" stroke-linecap="butt"/>
<line x1="469.40" y1="1161.20" x2="782.60" y2="1161.20" stroke="#c6cad2" stroke-width="1.3" stroke-linecap="butt"/>
<line x1="465.90" y1="1161.20" x2="469.40" y2="1161.20" stroke="#c6cad2" stroke-width="1" stroke-linecap="butt"/>
<line x1="465.90" y1="1109.20" x2="469.40" y2="1109.20" stroke="#c6cad2" stroke-width="1" stroke-linecap="butt"/>
<line x1="465.90" y1="1057.20" x2="469.40" y2="1057.20" stroke="#c6cad2" stroke-width="1" stroke-linecap="butt"/>
<line x1="465.90" y1="1005.20" x2="469.40" y2="1005.20" stroke="#c6cad2" stroke-width="1" stroke-linecap="butt"/>
<line x1="465.90" y1="953.20" x2="469.40" y2="953.20" stroke="#c6cad2" stroke-width="1" stroke-linecap="butt"/>
<line x1="469.40" y1="1161.20" x2="469.40" y2="1164.70" stroke="#c6cad2" stroke-width="1" stroke-linecap="butt"/>
<line x1="514.14" y1="1161.20" x2="514.14" y2="1164.70" stroke="#c6cad2" stroke-width="1" stroke-linecap="butt"/>
<line x1="558.89" y1="1161.20" x2="558.89" y2="1164.70" stroke="#c6cad2" stroke-width="1" stroke-linecap="butt"/>
<line x1="603.63" y1="1161.20" x2="603.63" y2="1164.70" stroke="#c6cad2" stroke-width="1" stroke-linecap="butt"/>
<line x1="648.37" y1="1161.20" x2="648.37" y2="1164.70" stroke="#c6cad2" stroke-width="1" stroke-linecap="butt"/>
<line x1="693.11" y1="1161.20" x2="693.11" y2="1164.70" stroke="#c6cad2" stroke-width="1" stroke-linecap="butt"/>
<line x1="737.86" y1="1161.20" x2="737.86" y2="1164.70" stroke="#c6cad2" stroke-width="1" stroke-linecap="butt"/>
<line x1="782.60" y1="1161.20" x2="782.60" y2="1164.70" stroke="#c6cad2" stroke-width="1" stroke-linecap="butt"/>
<text x="462.20" y="1169.90" font-size="16" text-anchor="end" fill="#111">0</text>
<text x="462.20" y="1117.90" font-size="16" text-anchor="end" fill="#111">1</text>
<text x="462.20" y="1065.90" font-size="16" text-anchor="end" fill="#111">2</text>
<text x="462.20" y="1013.90" font-size="16" text-anchor="end" fill="#111">3</text>
<text x="462.20" y="961.90" font-size="16" text-anchor="end" fill="#111">4</text>
<text x="467.90" y="1178.75" font-size="16" text-anchor="middle" fill="#111">-1</text>
<text x="514.14" y="1178.75" font-size="16" text-anchor="middle" fill="#111">0</text>
<text x="558.89" y="1178.75" font-size="16" text-anchor="middle" fill="#111">1</text>
<text x="603.63" y="1178.75" font-size="16" text-anchor="middle" fill="#111">2</text>
<text x="648.37" y="1178.75" font-size="16" text-anchor="middle" fill="#111">3</text>
<text x="693.11" y="1178.75" font-size="16" text-anchor="middle" fill="#111">4</text>
<text x="737.86" y="1178.75" font-size="16" text-anchor="middle" fill="#111">5</text>
<text x="782.60" y="1178.75" font-size="16" text-anchor="middle" fill="#111">6</text>
<text x="638.00" y="1197.50" font-size="18" text-anchor="middle" fill="#111">Time since dawn (Hrs)</text>
<text x="447.50" y="1056.30" font-size="18" text-anchor="middle" font-style="italic" transform="rotate(-90 447.5 1056.3)" fill="#111">PRR7/PP2a</text>
<text x="725.50" y="1157.00" font-size="23.5" text-anchor="start" fill="#111">22˚C</text>
<rect x="469.40" y="953.50" width="113.10" height="60.90" fill="#fff" stroke="#111" stroke-width="1.4"/>
<line x1="472.80" y1="963.60" x2="495.90" y2="963.60" stroke="#111" stroke-width="2.2" stroke-linecap="butt"/>
<text x="498.60" y="968.30" font-size="13" text-anchor="start" fill="#111" textLength="49.2" lengthAdjust="spacingAndGlyphs">Wild type</text>
<line x1="472.80" y1="977.40" x2="495.90" y2="977.40" stroke="#e8312a" stroke-width="2.2" stroke-linecap="butt"/>
<text x="499.80" y="982.60" font-size="13" text-anchor="start" font-style="italic" fill="#111" textLength="44" lengthAdjust="spacingAndGlyphs">jmjd5-1</text>
<line x1="472.80" y1="990.50" x2="495.90" y2="990.50" stroke="#2f86c8" stroke-width="2.4" stroke-dasharray="7.5,6.5" stroke-linecap="butt"/>
<text x="499.80" y="996.30" font-size="13" text-anchor="start" font-style="italic" fill="#111" textLength="28.1" lengthAdjust="spacingAndGlyphs">lux-2</text>
<line x1="472.80" y1="1003.90" x2="495.90" y2="1003.90" stroke="#111" stroke-width="2.0" stroke-dasharray="1.6,1.6" stroke-linecap="butt"/>
<text x="499.80" y="1008.80" font-size="13" text-anchor="start" font-style="italic" fill="#111" textLength="79" lengthAdjust="spacingAndGlyphs">jmjd5-1 lux-2</text>
</svg>
</body></html>
